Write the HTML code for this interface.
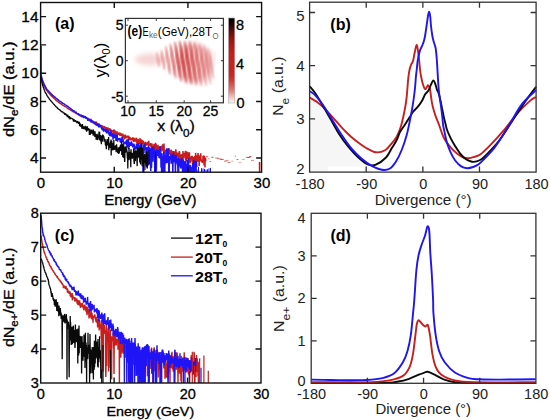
<!DOCTYPE html>
<html><head><meta charset="utf-8"><style>
html,body{margin:0;padding:0;background:#fff;}
body{width:550px;height:420px;position:relative;overflow:hidden;font-family:"Liberation Sans", sans-serif;}
</style></head><body>
<svg width="550" height="420" viewBox="0 0 550 420" style="position:absolute;left:0;top:0">
<g font-family='"Liberation Sans", sans-serif'>
<clipPath id="cpA"><rect x="40.6" y="2.5" width="221.00000000000003" height="169.7"/></clipPath>
<g clip-path="url(#cpA)">
<path d="M41.0,75.4 41.2,76.5 41.4,77.5 41.6,78.6 41.8,79.6 42.0,80.4 42.2,81.3 42.4,82.1 42.6,82.4 42.8,82.8 43.0,83.4 43.2,83.9 43.4,84.3 43.6,84.6 43.8,85.2 44.0,85.7 44.2,85.8 44.4,86.3 44.6,86.5 44.8,87.1 45.0,87.3 45.2,87.9 45.4,88.1 45.6,88.6 45.8,89.0 46.0,89.2 46.2,89.2 46.4,89.8 46.6,90.2 46.8,90.5 47.0,90.5 47.2,91.0 47.4,91.1 47.6,91.4 47.8,91.9 48.0,91.9 48.2,92.4 48.4,92.6 48.6,92.6 48.8,92.9 49.0,93.2 49.2,93.5 49.4,93.4 49.6,93.9 49.8,94.3 50.0,94.0 50.2,94.6 50.4,94.8 50.6,94.8 50.8,95.4 51.0,95.5 51.2,95.4 51.4,95.9 51.6,96.1 51.8,96.1 52.0,96.4 52.2,96.6 52.4,96.9 52.6,97.1 52.8,97.0 53.0,97.4 53.2,97.5 53.4,97.7 53.6,97.7 53.8,98.0 54.0,98.2 54.2,98.7 54.4,98.8 54.6,98.7 54.8,98.9 55.0,99.3 55.2,99.1 55.4,99.5 55.6,99.7 55.8,100.2 56.0,100.3 56.2,100.4 56.4,100.5 56.6,100.6 56.8,101.1 57.0,100.9 57.2,101.1 57.4,101.4 57.6,101.5 57.8,101.6 58.0,101.6 58.2,102.0 58.4,102.0 58.6,102.5 58.8,102.5 59.0,102.6 59.2,102.8 59.4,102.8 59.6,103.2 59.8,103.3 60.0,103.4 60.2,103.3 60.4,103.6 60.6,103.4 60.8,103.6 61.0,103.9 61.2,104.0 61.4,104.3 61.6,104.8 61.8,104.5 62.0,104.6 62.2,104.8 62.4,105.0 62.6,105.1 62.8,105.1 63.0,105.5 63.2,105.5 63.4,105.4 63.6,105.7 63.8,105.8 64.0,105.8 64.2,106.1 64.4,106.1 64.6,106.4 64.8,106.4 65.0,106.6 65.2,106.6 65.4,106.8 65.6,106.6 65.8,106.9 66.0,107.2 66.2,107.0 66.4,107.6 66.6,107.3 66.8,107.9 67.0,107.7 67.2,108.2 67.4,108.1 67.6,108.0 67.8,108.5 68.0,108.8 68.2,108.7 68.4,108.8 68.6,108.9 68.8,108.9 69.0,109.3 69.2,109.2 69.4,109.3 69.6,109.4 69.8,109.5 70.0,109.5 70.2,110.1 70.4,110.1 70.6,110.3 70.8,110.3 71.0,110.3 71.2,110.4 71.4,110.5 71.6,110.7 71.8,110.8 72.0,111.0 72.2,110.9 72.4,111.0 72.6,111.7 72.8,111.4 73.0,111.3 73.2,111.8 73.4,112.1 73.6,111.6 73.8,112.0 74.0,112.1 74.2,111.8 74.4,112.5 74.6,112.5 74.8,112.6 75.0,112.6 75.2,113.0 75.4,112.8 75.6,113.0 75.8,112.9 76.0,112.9 76.2,113.7 76.4,113.3 76.6,113.9 76.8,113.7 77.0,113.8 77.2,113.8 77.4,114.2 77.6,114.0 77.8,114.2 78.0,114.3 78.2,114.7 78.4,114.7 78.6,114.9 78.8,114.5 79.0,114.6 79.2,115.2 79.4,115.4 79.6,115.1 79.8,115.4 80.0,115.6 80.2,115.9 80.4,116.0 80.6,115.5 80.8,116.5 81.0,115.4 81.2,116.4 81.4,116.3 81.6,116.5 81.8,117.1 82.0,116.9 82.2,115.9 82.4,115.7 82.6,116.9 82.8,116.5 83.0,116.7 83.2,117.2 83.4,116.3 83.6,116.1 83.8,117.2 84.0,117.3 84.2,117.1 84.4,117.7 84.6,117.4 84.8,116.9 85.0,117.7 85.2,117.3 85.4,117.2 85.6,118.2 85.8,118.3 86.0,118.3 86.2,118.2 86.4,118.2 86.6,118.1 86.8,118.2 87.0,118.8 87.2,118.5 87.4,119.1 87.6,119.2 87.8,120.2 88.0,118.5 88.2,119.7 88.4,119.5 88.6,119.7 88.8,118.8 89.0,119.8 89.2,120.3 89.4,119.9 89.6,120.0 89.8,120.2 90.0,121.0 90.2,120.4 90.4,119.2 90.6,120.2 90.8,119.5 91.0,118.8 91.2,120.4 91.4,122.0 91.6,121.2 91.8,120.8 92.0,120.7 92.2,121.9 92.4,121.4 92.6,121.4 92.8,121.5 93.0,121.6 93.2,122.5 93.4,122.7 93.6,122.0 93.8,121.4 94.0,122.4 94.2,121.7 94.4,123.2 94.6,121.6 94.8,122.6 95.0,122.6 95.2,121.9 95.4,124.5 95.6,124.5 95.8,123.0 96.0,123.7 96.2,124.1 96.4,121.6 96.6,123.6 96.8,123.4 97.0,123.7 97.2,122.9 97.4,123.7 97.6,123.9 97.8,124.9 98.0,124.4 98.2,124.5 98.4,125.4 98.6,124.2 98.8,124.2 99.0,123.4 99.2,125.9 99.4,125.6 99.6,125.6 99.8,125.4 100.0,125.1 100.2,125.4 100.4,125.2 100.6,125.5 100.8,125.9 101.0,126.7 101.2,126.3 101.4,125.8 101.6,125.5 101.8,125.4 102.0,127.5 102.2,126.9 102.4,126.5 102.6,126.7 102.8,125.6 103.0,127.1 103.2,127.3 103.4,126.7 103.6,126.7 103.8,127.1 104.0,127.3 104.2,126.2 104.4,127.0 104.6,126.4 104.8,128.5 105.0,127.6 105.2,128.5 105.4,129.0 105.6,127.5 105.8,127.4 106.0,128.2 106.2,128.3 106.4,127.1 106.6,128.9 106.8,130.1 107.0,128.1 107.2,129.1 107.4,127.8 107.6,128.9 107.8,127.5 108.0,127.9 108.2,130.5 108.4,128.3 108.6,130.4 108.8,131.3 109.0,129.8 109.2,130.1 109.4,131.4 109.6,129.7 109.8,129.1 110.0,128.3 110.2,130.0 110.4,131.6 110.6,131.0 110.8,129.8 111.0,129.7 111.2,130.4 111.4,131.5 111.6,130.3 111.8,130.8 112.0,131.1 112.2,130.7 112.4,130.7 112.6,131.1 112.8,130.9 113.0,132.4 113.2,133.2 113.4,132.2 113.6,131.6 113.8,129.6 114.0,132.2 114.2,129.8 114.4,130.3 114.6,133.1 114.8,133.1 115.0,132.3 115.2,130.7 115.4,131.7 115.6,131.5 115.8,133.4 116.0,135.6 116.2,132.8 116.4,131.9 116.6,131.4 116.8,133.4 117.0,133.0 117.2,131.5 117.4,133.5 117.6,132.2 117.8,134.5 118.0,134.6 118.2,135.0 118.4,133.0 118.6,134.2 118.8,133.7 119.0,134.0 119.2,133.3 119.4,133.0 119.6,132.6 119.8,135.7 120.0,134.4 120.2,135.1 120.4,135.6 120.6,132.9 120.8,133.8 121.0,135.4 121.2,135.3 121.4,134.5 121.6,136.2 121.8,135.2 122.0,133.7 122.2,134.4 122.4,136.7 122.6,136.4 122.8,133.5 123.0,137.4 123.2,137.0 123.4,137.3 123.6,135.2 123.8,135.5 124.0,134.7 124.2,139.4 124.4,136.2 124.6,138.9 124.8,135.6 125.0,136.5 125.2,134.5 125.4,136.4 125.6,137.9 125.8,136.1 126.0,138.4 126.2,137.3 126.4,135.8 126.6,136.2 126.8,136.9 127.0,137.1 127.2,136.9 127.4,137.1 127.6,137.0 127.8,136.5 128.0,135.7 128.2,137.6 128.4,139.1 128.6,135.8 128.8,137.9 129.0,137.3 129.2,136.5 129.4,139.5 129.6,137.6 129.8,140.4 130.0,137.0 130.2,140.4 130.4,138.3 130.6,138.0 130.8,139.3 131.0,138.3 131.2,139.8 131.4,139.1 131.6,137.8 131.8,138.8 132.0,139.2 132.2,140.6 132.4,137.9 132.6,139.3 132.8,137.4 133.0,140.4 133.2,138.3 133.4,137.5 133.6,139.4 133.8,142.0 134.0,137.9 134.2,138.8 134.4,139.5 134.6,138.5 134.8,141.2 135.0,139.0 135.2,139.9 135.4,141.6 135.6,139.0 135.8,141.0 136.0,138.8 136.2,138.5 136.4,137.8 136.6,143.4 136.8,141.0 137.0,142.0 137.2,140.8 137.4,141.5 137.6,141.0 137.8,144.5 138.0,139.3 138.2,139.0 138.4,140.4 138.6,139.7 138.8,142.8 139.0,143.0 139.2,139.9 139.4,140.8 139.6,141.4 139.8,144.0 140.0,138.0 140.2,142.7 140.4,140.1 140.6,144.5 140.8,141.0 141.0,142.7 141.2,139.5 141.4,140.6 141.6,145.6 141.8,144.2 142.0,143.4 142.2,141.3 142.4,140.0 142.6,142.2 142.8,143.2 143.0,143.4 143.2,143.4 143.4,140.9 143.6,142.9 143.8,143.4 144.0,145.5 144.2,146.5 144.4,143.3 144.6,142.7 144.8,143.1 145.0,142.7 145.2,142.9 145.4,144.2 145.6,141.9 145.8,145.9 146.0,144.3 146.2,145.3 146.4,143.5 146.6,142.8 146.8,143.6 147.0,144.5 147.2,143.5 147.4,145.1 147.6,144.2 147.8,141.9 148.0,145.6 148.2,142.1 148.4,144.1 148.6,144.8 148.8,140.9 149.0,144.9 149.2,145.9 149.4,145.1 149.6,144.3 149.8,144.5 150.0,143.5 150.2,144.9 150.4,144.4 150.6,146.6 150.8,143.1 151.0,145.9 151.2,146.0 151.4,146.7 151.6,144.8 151.8,147.1 152.0,143.5 152.2,148.1 152.4,148.1 152.6,147.1 152.8,147.2 153.0,145.5 153.2,146.1 153.4,147.3 153.6,147.8 153.8,147.0 154.0,143.7 154.2,149.2 154.4,150.8 154.6,148.9 154.8,148.3 155.0,144.1 155.2,149.6 155.4,147.6 155.6,142.9 155.8,147.5 156.0,144.8 156.2,144.4 156.4,147.4 156.6,150.9 156.8,146.4 157.0,148.5 157.2,150.9 157.4,150.6 157.6,148.7 157.8,147.9 158.0,144.9 158.2,147.1 158.4,149.1 158.6,148.7 158.8,148.7 159.0,150.9 159.2,146.5 159.4,148.9 159.6,149.6 159.8,150.6 160.0,151.0 160.2,149.2 160.4,148.3 160.6,150.0 160.8,147.3 161.0,146.2 161.2,151.7 161.4,148.9 161.6,149.9 161.8,145.7 162.0,148.3 162.2,148.2 162.4,147.3 162.6,144.4 162.8,148.8 163.0,151.5 163.2,150.3 163.4,149.4 163.6,149.6 163.8,152.2 164.0,143.6 164.2,150.1 164.4,150.8 164.6,151.5 164.8,154.7 165.0,153.0 165.2,151.3 165.4,151.2 165.6,153.2 165.8,149.6 166.0,150.3 166.2,153.5 166.4,155.9 166.6,151.3 166.8,150.8 167.0,153.4 167.2,155.9 167.4,151.9 167.6,154.9 167.8,148.7 168.0,150.5 168.2,150.5 168.4,154.0 168.6,153.9 168.8,148.0 169.0,149.2 169.2,153.0 169.4,149.8 169.6,149.9 169.8,154.4 170.0,152.8 170.2,154.4 170.4,151.6 170.6,155.2 170.8,152.0 171.0,154.8 171.2,149.7 171.4,150.8 171.6,152.7 171.8,150.8 172.0,154.1 172.2,153.4 172.4,157.2 172.6,153.0 172.8,152.3 173.0,154.8 173.2,151.0 173.4,152.4 173.6,158.0 173.8,158.8 174.0,157.5 174.2,153.1 174.4,154.1 174.6,157.4 174.8,153.6 175.0,151.0 175.2,153.7 175.4,154.9 175.6,154.4 175.8,149.4 176.0,151.0 176.2,156.6 176.4,152.0 176.6,154.9 176.8,154.8 177.0,156.6 177.2,153.1 177.4,155.6 177.6,154.2 177.8,154.1 178.0,152.5 178.2,158.4 178.4,154.3 178.6,153.0 178.8,154.5 179.0,158.1 179.2,156.4 179.4,151.1 179.6,152.4 179.8,154.0 180.0,160.9 180.2,157.0 180.4,154.7 180.6,157.9 180.8,161.9 181.0,155.3 181.2,154.6 181.4,158.3 181.6,156.2 181.8,157.2 182.0,154.1 182.2,161.7 182.4,160.2 182.6,159.6 182.8,165.7 183.0,151.0 183.2,157.3 183.4,154.9 183.6,157.9 183.8,158.4 184.0,154.7 184.2,152.7 184.4,156.7 184.6,154.1 184.8,154.9 185.0,154.6 185.2,156.5 185.4,150.7 185.6,160.0 185.8,157.9 186.0,159.6 186.2,161.4 186.4,158.9 186.6,151.3 186.8,154.9 187.0,153.4 187.2,156.6 187.4,157.7 187.6,152.1 187.8,158.9 188.0,152.5 188.2,159.0 188.4,156.6 188.6,156.7 188.8,156.5 189.0,156.6 189.2,156.1 189.4,152.2 189.6,156.8 189.8,162.0 190.0,163.0 190.2,162.7 190.4,158.9 190.6,156.5 190.8,161.6 191.0,157.8 191.2,157.7 191.4,156.6 191.6,158.3 191.8,156.1 192.0,159.0 192.2,155.9 192.4,157.3 192.6,164.4 192.8,157.8 193.0,158.3 193.2,159.9 193.4,159.7 193.6,157.0 193.8,158.0 194.0,160.8 194.2,159.5 194.4,158.7 194.6,163.3 194.8,156.1 195.0,158.4 195.2,158.9 195.4,162.5 195.6,152.9 195.8,156.8 196.0,158.6 196.2,160.6 196.4,160.1 196.6,162.5 196.8,155.2 197.0,161.3 197.2,159.0 197.4,156.8 197.6,161.6 197.8,156.7 198.0,153.1 198.2,158.8 198.4,154.7 198.6,157.1 198.8,160.0 199.0,160.9 199.2,166.1 199.4,159.2 199.6,155.5 199.8,157.9 200.0,157.2 200.2,156.3 200.4,160.6 200.6,158.1 200.8,153.2 201.0,161.5 201.2,159.6 201.4,160.3 201.6,161.4 201.8,161.4 202.0,160.0 202.2,162.9 202.4,161.5 202.6,160.7 202.8,161.5 203.0,155.8 203.2,159.0 203.4,159.8 203.6,160.5 203.8,155.4 204.0,165.5 204.2,160.7 204.4,156.3 204.6,156.8 204.8,159.0 205.0,167.6 205.2,157.9 205.4,159.9 205.6,158.3 205.8,161.4" fill="none" stroke="#c81e1e" stroke-width="1.5" stroke-linejoin="bevel"/>
<path d="M41.0,74.9 41.2,75.9 41.4,76.2 41.6,77.2 41.8,77.9 42.0,78.7 42.2,79.5 42.4,79.9 42.6,80.4 42.8,81.1 43.0,81.5 43.2,81.9 43.4,82.2 43.6,82.7 43.8,83.3 44.0,83.7 44.2,84.1 44.4,84.8 44.6,85.1 44.8,85.5 45.0,86.0 45.2,86.3 45.4,86.5 45.6,87.1 45.8,87.4 46.0,87.8 46.2,88.0 46.4,88.4 46.6,88.9 46.8,89.2 47.0,89.2 47.2,89.8 47.4,89.8 47.6,90.2 47.8,90.2 48.0,90.3 48.2,91.0 48.4,91.0 48.6,91.0 48.8,91.5 49.0,91.4 49.2,92.2 49.4,92.1 49.6,92.1 49.8,92.6 50.0,92.6 50.2,93.2 50.4,93.0 50.6,93.0 50.8,93.4 51.0,93.7 51.2,93.7 51.4,93.7 51.6,94.4 51.8,94.6 52.0,94.3 52.2,95.0 52.4,95.1 52.6,95.5 52.8,95.5 53.0,95.5 53.2,95.8 53.4,96.0 53.6,96.0 53.8,96.5 54.0,96.4 54.2,96.4 54.4,97.0 54.6,96.9 54.8,97.0 55.0,97.3 55.2,97.4 55.4,97.6 55.6,97.7 55.8,97.8 56.0,98.1 56.2,98.4 56.4,98.4 56.6,98.8 56.8,98.9 57.0,98.8 57.2,99.1 57.4,99.1 57.6,99.6 57.8,99.7 58.0,99.7 58.2,99.7 58.4,100.0 58.6,100.2 58.8,100.5 59.0,100.6 59.2,100.5 59.4,101.0 59.6,101.1 59.8,101.0 60.0,101.4 60.2,101.5 60.4,101.6 60.6,101.6 60.8,101.6 61.0,101.9 61.2,102.0 61.4,102.4 61.6,102.7 61.8,102.5 62.0,102.8 62.2,102.8 62.4,103.0 62.6,103.1 62.8,103.1 63.0,103.8 63.2,103.5 63.4,103.3 63.6,103.9 63.8,103.7 64.0,103.9 64.2,103.6 64.4,104.3 64.6,104.4 64.8,104.6 65.0,104.8 65.2,104.9 65.4,104.8 65.6,105.2 65.8,105.0 66.0,105.2 66.2,105.5 66.4,105.5 66.6,105.5 66.8,106.0 67.0,106.1 67.2,106.0 67.4,106.3 67.6,106.3 67.8,106.4 68.0,106.5 68.2,107.0 68.4,106.7 68.6,107.1 68.8,107.4 69.0,107.6 69.2,107.4 69.4,107.7 69.6,107.9 69.8,108.2 70.0,108.0 70.2,108.2 70.4,108.7 70.6,108.8 70.8,108.8 71.0,108.8 71.2,109.1 71.4,109.3 71.6,109.8 71.8,109.3 72.0,109.9 72.2,109.9 72.4,110.0 72.6,110.3 72.8,110.5 73.0,110.5 73.2,110.8 73.4,110.3 73.6,110.8 73.8,111.4 74.0,111.2 74.2,111.6 74.4,111.0 74.6,111.2 74.8,111.7 75.0,111.8 75.2,112.5 75.4,112.2 75.6,112.2 75.8,112.5 76.0,112.1 76.2,112.1 76.4,113.6 76.6,113.2 76.8,113.3 77.0,113.3 77.2,113.7 77.4,113.3 77.6,114.2 77.8,113.6 78.0,113.0 78.2,114.3 78.4,114.6 78.6,114.1 78.8,114.1 79.0,114.5 79.2,114.1 79.4,115.3 79.6,114.9 79.8,115.1 80.0,114.7 80.2,115.8 80.4,115.4 80.6,115.1 80.8,114.7 81.0,115.2 81.2,116.2 81.4,115.1 81.6,115.7 81.8,116.3 82.0,116.7 82.2,116.2 82.4,115.5 82.6,116.1 82.8,115.8 83.0,115.5 83.2,116.4 83.4,116.0 83.6,116.9 83.8,118.2 84.0,117.1 84.2,117.1 84.4,116.5 84.6,116.5 84.8,116.3 85.0,117.2 85.2,116.6 85.4,116.8 85.6,117.4 85.8,117.0 86.0,117.2 86.2,117.0 86.4,118.9 86.6,118.5 86.8,118.6 87.0,118.9 87.2,118.4 87.4,119.0 87.6,117.5 87.8,120.8 88.0,120.4 88.2,118.8 88.4,118.5 88.6,119.7 88.8,118.5 89.0,119.3 89.2,120.2 89.4,119.8 89.6,119.5 89.8,120.9 90.0,119.4 90.2,121.4 90.4,120.3 90.6,120.7 90.8,121.0 91.0,119.8 91.2,122.6 91.4,120.5 91.6,122.8 91.8,120.4 92.0,121.8 92.2,120.7 92.4,120.5 92.6,122.3 92.8,122.2 93.0,120.8 93.2,123.1 93.4,122.0 93.6,123.4 93.8,122.8 94.0,123.2 94.2,122.5 94.4,124.1 94.6,123.6 94.8,124.1 95.0,122.4 95.2,122.1 95.4,122.6 95.6,124.2 95.8,124.0 96.0,123.3 96.2,124.5 96.4,125.6 96.6,125.2 96.8,123.7 97.0,126.0 97.2,125.0 97.4,125.6 97.6,124.2 97.8,123.7 98.0,124.7 98.2,125.0 98.4,126.0 98.6,126.6 98.8,127.3 99.0,126.7 99.2,127.3 99.4,125.8 99.6,124.4 99.8,126.2 100.0,126.1 100.2,126.7 100.4,126.4 100.6,125.5 100.8,126.4 101.0,127.0 101.2,127.8 101.4,126.7 101.6,128.8 101.8,129.1 102.0,126.8 102.2,127.9 102.4,130.1 102.6,127.6 102.8,130.0 103.0,130.4 103.2,130.1 103.4,127.7 103.6,131.8 103.8,129.5 104.0,128.8 104.2,129.7 104.4,131.0 104.6,129.6 104.8,130.3 105.0,131.2 105.2,130.2 105.4,128.7 105.6,131.1 105.8,132.2 106.0,132.0 106.2,130.3 106.4,132.0 106.6,131.8 106.8,133.4 107.0,129.2 107.2,131.3 107.4,130.8 107.6,129.8 107.8,130.8 108.0,133.3 108.2,131.1 108.4,131.5 108.6,133.1 108.8,134.1 109.0,134.3 109.2,133.2 109.4,132.4 109.6,136.1 109.8,132.0 110.0,132.8 110.2,133.8 110.4,136.2 110.6,131.6 110.8,130.3 111.0,131.4 111.2,132.4 111.4,136.7 111.6,134.5 111.8,134.1 112.0,133.4 112.2,134.6 112.4,133.2 112.6,135.0 112.8,133.6 113.0,139.7 113.2,136.3 113.4,133.9 113.6,133.7 113.8,136.0 114.0,133.4 114.2,135.0 114.4,134.3 114.6,138.3 114.8,135.0 115.0,134.7 115.2,135.1 115.4,134.9 115.6,136.9 115.8,136.9 116.0,140.9 116.2,135.8 116.4,140.0 116.6,137.5 116.8,137.7 117.0,134.6 117.2,135.2 117.4,139.2 117.6,141.7 117.8,138.7 118.0,140.0 118.2,138.5 118.4,138.4 118.6,138.1 118.8,139.6 119.0,138.8 119.2,138.2 119.4,139.3 119.6,140.2 119.8,139.0 120.0,137.8 120.2,142.2 120.4,139.8 120.6,139.8 120.8,142.6 121.0,142.2 121.2,140.2 121.4,140.8 121.6,138.5 121.8,142.0 122.0,137.0 122.2,142.1 122.4,136.8 122.6,141.4 122.8,140.5 123.0,139.2 123.2,140.8 123.4,142.7 123.6,142.3 123.8,144.7 124.0,143.2 124.2,143.4 124.4,142.6 124.6,142.2 124.8,142.5 125.0,141.6 125.2,143.3 125.4,143.1 125.6,143.8 125.8,142.5 126.0,142.7 126.2,140.8 126.4,145.2 126.6,139.5 126.8,142.1 127.0,147.7 127.2,139.6 127.4,141.8 127.6,143.7 127.8,140.0 128.0,147.5 128.2,138.9 128.4,145.5 128.6,149.1 128.8,144.5 129.0,142.3 129.2,147.2 129.4,142.3 129.6,145.1 129.8,141.7 130.0,144.3 130.2,145.9 130.4,143.9 130.6,144.7 130.8,144.5 131.0,142.6 131.2,145.7 131.4,145.6 131.6,141.4 131.8,144.1 132.0,143.5 132.2,143.4 132.4,144.1 132.6,143.9 132.8,147.1 133.0,144.3 133.2,147.7 133.4,145.5 133.6,147.5 133.8,143.5 134.0,144.7 134.2,144.8 134.4,146.6 134.6,147.6 134.8,150.2 135.0,148.3 135.2,146.2 135.4,146.7 135.6,147.8 135.8,148.5 136.0,148.4 136.2,147.2 136.4,144.9 136.6,143.7 136.8,148.0 137.0,147.5 137.2,146.4 137.4,149.6 137.6,145.4 137.8,147.2 138.0,146.4 138.2,143.1 138.4,148.9 138.6,145.8 138.8,145.3 139.0,146.2 139.2,148.8 139.4,145.9 139.6,146.8 139.8,146.4 140.0,146.5 140.2,143.7 140.4,148.8 140.6,148.1 140.8,147.7 141.0,152.7 141.2,147.6 141.4,149.0 141.6,151.0 141.8,149.0 142.0,150.2 142.2,151.0 142.4,147.5 142.6,152.4 142.8,149.1 143.0,174.8 143.2,160.5 143.4,146.4 143.6,145.2 143.8,153.3 144.0,152.8 144.2,144.5 144.4,149.9 144.6,147.2 144.8,143.7 145.0,144.9 145.2,147.1 145.4,150.3 145.6,149.2 145.8,149.4 146.0,149.3 146.2,150.4 146.4,167.2 146.6,149.5 146.8,147.0 147.0,148.6 147.2,147.6 147.4,149.0 147.6,150.2 147.8,155.0 148.0,152.5 148.2,165.4 148.4,146.1 148.6,146.4 148.8,149.9 149.0,150.7 149.2,164.0 149.4,147.4 149.6,152.2 149.8,148.2 150.0,147.7 150.2,148.7 150.4,149.9 150.6,167.8 150.8,171.0 151.0,150.7 151.2,152.4 151.4,168.0 151.6,164.6 151.8,148.1 152.0,146.8 152.2,152.0 152.4,148.8 152.6,152.4 152.8,150.5 153.0,161.7 153.2,149.5 153.4,157.8 153.6,146.8 153.8,152.6 154.0,156.4 154.2,150.4 154.4,151.6 154.6,153.4 154.8,175.2 155.0,149.7 155.2,151.9 155.4,175.2 155.6,155.8 155.8,153.1 156.0,175.2 156.2,153.7 156.4,170.5 156.6,150.4 156.8,149.5 157.0,153.4 157.2,152.5 157.4,150.8 157.6,156.0 157.8,152.8 158.0,149.9 158.2,156.0 158.4,150.1 158.6,154.2 158.8,152.7 159.0,157.9 159.2,156.9 159.4,150.8 159.6,154.0 159.8,158.5 160.0,146.0 160.2,156.1 160.4,153.4 160.6,152.0 160.8,153.2 161.0,167.6 161.2,167.2 161.4,158.4 161.6,174.9 161.8,153.2 162.0,175.2 162.2,164.7 162.4,158.2 162.6,156.3 162.8,175.2 163.0,175.2 163.2,160.7 163.4,158.6 163.6,152.9 163.8,151.9 164.0,154.8 164.2,154.2 164.4,175.2 164.6,165.5 164.8,175.2 165.0,155.7 165.2,156.6 165.4,154.8 165.6,163.1 165.8,156.6 166.0,163.5 166.2,158.4 166.4,156.4 166.6,153.0 166.8,148.2 167.0,157.1 167.2,156.7 167.4,163.1 167.6,151.3 167.8,160.9 168.0,154.6 168.2,157.5 168.4,148.4 168.6,159.2 168.8,175.2 169.0,159.3 169.2,175.2 169.4,156.0 169.6,158.2 169.8,160.3 170.0,158.1 170.2,159.6 170.4,160.4 170.6,155.7 170.8,155.9 171.0,154.2 171.2,163.8 171.4,160.4 171.6,156.7 171.8,156.6 172.0,157.6 172.2,156.8 172.4,159.1 172.6,154.9 172.8,175.2 173.0,163.4 173.2,155.0 173.4,152.8 173.6,157.1 173.8,160.0 174.0,162.2 174.2,158.5 174.4,157.6 174.6,157.3 174.8,155.1 175.0,162.4 175.2,161.5 175.4,175.2 175.6,159.4 175.8,157.9 176.0,163.1 176.2,157.8 176.4,155.4 176.6,156.6 176.8,160.2 177.0,160.6 177.2,161.3 177.4,164.6 177.6,162.4 177.8,165.4 178.0,175.2 178.2,157.9 178.4,163.1 178.6,174.9 178.8,161.0 179.0,163.5 179.2,159.8 179.4,158.7 179.6,161.0 179.8,161.5 180.0,161.0 180.2,166.1 180.4,162.1 180.6,167.6 180.8,163.7 181.0,168.6 181.2,158.4 181.4,158.9 181.6,161.8 181.8,158.5 182.0,161.4 182.2,165.9 182.4,158.8 182.6,175.2 182.8,160.1 183.0,160.4 183.2,159.6 183.4,161.9 183.6,163.8 183.8,161.3 184.0,175.2 184.2,164.8 184.4,175.2 184.6,162.6 184.8,175.2 185.0,163.9 185.2,160.8 185.4,167.5 185.6,175.2 185.8,167.8 186.0,167.5 186.2,164.5 186.4,173.7 186.6,164.0 186.8,168.7 187.0,168.1 187.2,159.7 187.4,167.7 187.6,173.6 187.8,175.1 188.0,163.5 188.2,162.5 188.4,158.4 188.6,167.6 188.8,164.7 189.0,165.2 189.2,171.8 189.4,172.8 189.6,166.5 189.8,170.3 190.0,175.2 190.2,167.7 190.4,165.4 190.6,165.6 190.8,173.0 191.0,167.3 191.2,167.8 191.4,172.2 191.6,175.2 191.8,168.5 192.0,168.1 192.2,175.2 192.4,175.2 192.6,169.9 192.8,163.2 193.0,166.1 193.2,163.3 193.4,175.2 193.6,166.8 193.8,159.9 194.0,165.1 194.2,175.2 194.4,165.3 194.6,162.1 194.8,170.2 195.0,163.9 195.2,161.3 195.4,161.0 195.6,169.4 195.8,169.0 196.0,175.2 196.2,167.5 196.4,161.1 196.6,163.5 196.8,167.1" fill="none" stroke="#1e14f5" stroke-width="1.5" stroke-linejoin="bevel"/>
<path d="M41.0,75.8 41.2,77.2 41.4,78.6 41.6,80.3 41.8,81.7 42.0,82.6 42.2,83.4 42.4,84.4 42.6,84.8 42.8,85.8 43.0,86.2 43.2,86.7 43.4,87.6 43.6,87.8 43.8,88.4 44.0,89.3 44.2,89.8 44.4,90.2 44.6,90.7 44.8,91.2 45.0,91.7 45.2,92.1 45.4,92.8 45.6,92.9 45.8,93.2 46.0,93.6 46.2,93.6 46.4,94.1 46.6,94.6 46.8,95.2 47.0,95.3 47.2,95.8 47.4,96.2 47.6,96.3 47.8,96.8 48.0,97.3 48.2,97.3 48.4,97.3 48.6,98.0 48.8,98.0 49.0,98.4 49.2,98.7 49.4,98.9 49.6,99.4 49.8,99.5 50.0,99.9 50.2,100.1 50.4,100.1 50.6,100.5 50.8,100.9 51.0,100.9 51.2,101.6 51.4,101.3 51.6,101.5 51.8,102.0 52.0,102.2 52.2,102.4 52.4,102.6 52.6,102.9 52.8,103.2 53.0,103.5 53.2,103.4 53.4,103.8 53.6,104.1 53.8,104.5 54.0,103.9 54.2,104.6 54.4,104.8 54.6,105.2 54.8,105.5 55.0,105.6 55.2,105.8 55.4,105.9 55.6,106.2 55.8,106.7 56.0,106.6 56.2,106.8 56.4,107.3 56.6,107.2 56.8,107.0 57.0,107.6 57.2,107.7 57.4,108.0 57.6,108.5 57.8,108.5 58.0,108.4 58.2,108.9 58.4,108.9 58.6,109.3 58.8,109.3 59.0,109.5 59.2,109.4 59.4,109.8 59.6,109.8 59.8,109.8 60.0,109.9 60.2,110.6 60.4,110.5 60.6,110.7 60.8,111.0 61.0,111.4 61.2,111.3 61.4,111.3 61.6,111.5 61.8,112.0 62.0,111.7 62.2,112.1 62.4,111.5 62.6,111.8 62.8,112.6 63.0,112.3 63.2,112.4 63.4,113.4 63.6,112.4 63.8,113.2 64.0,112.5 64.2,113.3 64.4,113.5 64.6,114.3 64.8,114.3 65.0,113.7 65.2,115.0 65.4,113.8 65.6,113.3 65.8,114.3 66.0,115.4 66.2,115.2 66.4,115.1 66.6,114.7 66.8,114.6 67.0,116.1 67.2,116.0 67.4,117.1 67.6,115.5 67.8,114.9 68.0,116.9 68.2,115.8 68.4,116.8 68.6,117.7 68.8,116.4 69.0,118.4 69.2,116.6 69.4,116.5 69.6,117.3 69.8,116.6 70.0,119.4 70.2,117.9 70.4,117.9 70.6,118.0 70.8,118.2 71.0,117.7 71.2,118.5 71.4,118.3 71.6,118.7 71.8,118.3 72.0,118.5 72.2,119.1 72.4,118.3 72.6,119.1 72.8,119.0 73.0,120.2 73.2,118.8 73.4,120.8 73.6,121.6 73.8,119.9 74.0,119.0 74.2,120.3 74.4,121.7 74.6,120.2 74.8,121.3 75.0,121.2 75.2,120.8 75.4,120.6 75.6,120.6 75.8,120.9 76.0,121.6 76.2,121.6 76.4,122.2 76.6,122.4 76.8,122.1 77.0,123.0 77.2,121.5 77.4,121.3 77.6,121.3 77.8,122.9 78.0,122.3 78.2,122.7 78.4,122.8 78.6,123.8 78.8,123.4 79.0,121.6 79.2,124.0 79.4,122.4 79.6,126.3 79.8,124.2 80.0,123.2 80.2,124.8 80.4,124.7 80.6,124.9 80.8,126.3 81.0,126.4 81.2,126.1 81.4,126.0 81.6,124.5 81.8,128.7 82.0,126.5 82.2,126.1 82.4,124.1 82.6,127.2 82.8,126.1 83.0,125.9 83.2,129.3 83.4,126.9 83.6,126.8 83.8,127.8 84.0,128.6 84.2,128.4 84.4,127.4 84.6,128.1 84.8,129.3 85.0,126.0 85.2,126.5 85.4,126.2 85.6,127.3 85.8,130.1 86.0,129.0 86.2,126.6 86.4,129.5 86.6,131.6 86.8,128.2 87.0,128.2 87.2,129.0 87.4,126.3 87.6,130.7 87.8,129.4 88.0,129.8 88.2,128.1 88.4,129.5 88.6,128.5 88.8,130.2 89.0,130.0 89.2,129.7 89.4,134.9 89.6,132.0 89.8,128.9 90.0,130.5 90.2,135.0 90.4,130.2 90.6,133.6 90.8,133.7 91.0,130.3 91.2,131.1 91.4,131.5 91.6,131.6 91.8,129.6 92.0,131.0 92.2,133.7 92.4,131.4 92.6,131.9 92.8,132.2 93.0,131.2 93.2,135.7 93.4,129.6 93.6,131.8 93.8,134.6 94.0,131.4 94.2,134.4 94.4,135.2 94.6,131.6 94.8,137.0 95.0,131.2 95.2,134.7 95.4,134.2 95.6,134.1 95.8,136.7 96.0,136.5 96.2,139.6 96.4,135.9 96.6,134.5 96.8,135.4 97.0,135.8 97.2,133.7 97.4,140.1 97.6,135.7 97.8,136.7 98.0,135.3 98.2,136.8 98.4,136.2 98.6,138.3 98.8,136.0 99.0,131.5 99.2,139.9 99.4,134.4 99.6,131.9 99.8,135.6 100.0,135.5 100.2,140.8 100.4,135.0 100.6,140.2 100.8,135.2 101.0,142.6 101.2,140.2 101.4,144.2 101.6,136.6 101.8,140.6 102.0,135.8 102.2,140.9 102.4,141.4 102.6,134.6 102.8,136.0 103.0,136.5 103.2,135.1 103.4,137.6 103.6,137.4 103.8,136.2 104.0,139.3 104.2,141.7 104.4,138.9 104.6,139.3 104.8,140.4 105.0,139.0 105.2,140.3 105.4,145.0 105.6,142.2 105.8,146.0 106.0,141.7 106.2,146.2 106.4,149.2 106.6,143.2 106.8,140.6 107.0,143.8 107.2,139.0 107.4,143.6 107.6,145.5 107.8,139.6 108.0,142.4 108.2,140.7 108.4,141.3 108.6,137.1 108.8,150.2 109.0,146.1 109.2,146.5 109.4,143.3 109.6,147.0 109.8,147.7 110.0,145.4 110.2,147.1 110.4,141.7 110.6,145.9 110.8,142.0 111.0,139.6 111.2,155.4 111.4,144.5 111.6,149.5 111.8,140.8 112.0,150.4 112.2,149.6 112.4,146.1 112.6,143.1 112.8,145.3 113.0,150.3 113.2,143.5 113.4,144.8 113.6,149.2 113.8,140.0 114.0,149.1 114.2,149.9 114.4,147.5 114.6,149.7 114.8,147.0 115.0,148.0 115.2,145.7 115.4,145.8 115.6,145.8 115.8,146.7 116.0,150.3 116.2,152.2 116.4,148.6 116.6,144.3 116.8,148.6 117.0,146.7 117.2,151.1 117.4,149.6 117.6,150.7 117.8,153.2 118.0,151.7 118.2,150.2 118.4,149.7 118.6,147.8 118.8,153.9 119.0,147.0 119.2,152.6 119.4,152.2 119.6,148.5 119.8,150.7 120.0,150.0 120.2,145.9 120.4,146.5 120.6,144.6 120.8,150.1 121.0,149.6 121.2,151.2 121.4,150.9 121.6,141.6 121.8,155.1 122.0,147.2 122.2,153.0 122.4,150.2 122.6,150.0 122.8,157.3 123.0,143.7 123.2,153.8 123.4,153.6 123.6,144.7 123.8,157.9 124.0,150.8 124.2,149.2 124.4,148.0 124.6,162.0 124.8,160.3 125.0,146.4 125.2,152.8 125.4,149.7 125.6,148.2 125.8,151.3 126.0,146.2 126.2,152.5 126.4,149.2 126.6,148.4 126.8,151.2 127.0,150.8 127.2,154.3 127.4,158.4 127.6,152.3 127.8,168.4 128.0,152.8 128.2,158.6 128.4,152.2 128.6,152.5 128.8,160.2 129.0,147.9 129.2,156.8 129.4,152.7 129.6,152.8 129.8,154.5 130.0,159.5 130.2,157.2 130.4,151.7 130.6,156.0 130.8,167.3 131.0,149.3 131.2,153.5 131.4,155.6 131.6,153.3 131.8,158.4 132.0,152.9 132.2,156.2 132.4,158.6 132.6,155.0 132.8,153.1 133.0,157.6 133.2,153.6 133.4,155.5 133.6,148.3 133.8,156.9 134.0,161.5 134.2,163.2 134.4,163.9 134.6,154.5 134.8,160.1 135.0,150.6 135.2,159.9 135.4,161.1 135.6,150.3 135.8,156.8 136.0,158.5 136.2,154.3 136.4,150.5 136.6,155.9 136.8,152.3 137.0,162.2 137.2,166.1 137.4,147.6 137.6,152.6 137.8,153.1 138.0,155.3 138.2,151.4 138.4,157.1 138.6,153.6 138.8,148.1 139.0,157.5 139.2,157.9 139.4,155.2 139.6,153.3 139.8,162.6 140.0,160.5 140.2,147.1 140.4,148.5 140.6,164.4 140.8,150.7 141.0,157.9 141.2,154.7 141.4,159.7 141.6,143.3 141.8,146.5 142.0,152.2 142.2,166.3 142.4,154.6 142.6,148.0 142.8,158.4 143.0,159.3 143.2,159.6 143.4,155.7 143.6,162.1 143.8,173.5 144.0,157.7 144.2,162.5 144.4,163.3 144.6,154.0 144.8,157.9 145.0,159.6 145.2,156.6 145.4,161.7 145.6,163.0 145.8,162.9 146.0,165.5 146.2,151.2 146.4,163.2 146.6,163.7 146.8,156.8 147.0,152.2 147.2,168.5 147.4,166.4 147.6,154.8 147.8,154.5" fill="none" stroke="#0a0a0a" stroke-width="1.3" stroke-linejoin="bevel"/>
<path d="M41.1,46 L41.1,76" stroke="#1e14f5" stroke-width="1.4"/>
<path d="M206,156.75h2.13" stroke="#c81e1e" stroke-width="1" opacity="0.73"/>
<path d="M207.8,158.89h1.88" stroke="#c81e1e" stroke-width="1" opacity="0.45"/>
<path d="M209.6,161.48h1.54" stroke="#c81e1e" stroke-width="1" opacity="0.68"/>
<path d="M211.4,157.25h2.06" stroke="#c81e1e" stroke-width="1" opacity="0.82"/>
<path d="M215,158h2.94" stroke="#c81e1e" stroke-width="1" opacity="0.48"/>
<path d="M216.8,158.33h2.34" stroke="#c81e1e" stroke-width="1" opacity="0.63"/>
<path d="M218.6,159.02h2.87" stroke="#c81e1e" stroke-width="1" opacity="0.63"/>
<path d="M220.4,159.41h2.37" stroke="#c81e1e" stroke-width="1" opacity="0.81"/>
<path d="M222.2,159.36h1.71" stroke="#c81e1e" stroke-width="1" opacity="0.56"/>
<path d="M224,161.15h2.72" stroke="#c81e1e" stroke-width="1" opacity="0.65"/>
<path d="M225.8,160.43h2.76" stroke="#c81e1e" stroke-width="1" opacity="0.5"/>
<path d="M227.6,162.48h2.88" stroke="#c81e1e" stroke-width="1" opacity="0.63"/>
<path d="M231.2,161.21h2.36" stroke="#c81e1e" stroke-width="1" opacity="0.39"/>
<path d="M234.8,156.13h1.1" stroke="#c81e1e" stroke-width="1" opacity="0.73"/>
<path d="M236.6,159.6h1.74" stroke="#c81e1e" stroke-width="1" opacity="0.79"/>
<path d="M238.4,162.38h2.88" stroke="#c81e1e" stroke-width="1" opacity="0.38"/>
<path d="M242,159.48h2.71" stroke="#c81e1e" stroke-width="1" opacity="0.42"/>
<path d="M245.6,157.39h2.93" stroke="#c81e1e" stroke-width="1" opacity="0.54"/>
<path d="M247.4,157.44h2.81" stroke="#c81e1e" stroke-width="1" opacity="0.84"/>
<path d="M249.2,156.5h2.2" stroke="#c81e1e" stroke-width="1" opacity="0.77"/>
<path d="M251,160.38h2.95" stroke="#c81e1e" stroke-width="1" opacity="0.55"/>
<path d="M259.6,162 V172" stroke="#c81e1e" stroke-width="1.6"/>
<path d="M197,169.79V172" stroke="#1e14f5" stroke-width="1"/>
<path d="M198.5,166.88V172" stroke="#1e14f5" stroke-width="1"/>
<path d="M201.5,168.23V172" stroke="#1e14f5" stroke-width="1"/>
<path d="M203,168.4V172" stroke="#1e14f5" stroke-width="1"/>
<path d="M204.5,168.92V172" stroke="#1e14f5" stroke-width="1"/>
<path d="M206,169.6V172" stroke="#1e14f5" stroke-width="1"/>
<path d="M207.5,169.29V172" stroke="#1e14f5" stroke-width="1"/>
<path d="M209,168.35V172" stroke="#1e14f5" stroke-width="1"/>
<path d="M210.5,167.93V172" stroke="#1e14f5" stroke-width="1"/>
<path d="M155.5,152V172M149,150V165M145,155V170" stroke="#0a0a0a" stroke-width="1"/>
</g>
<rect x="40.6" y="2.5" width="221" height="169.7" fill="none" stroke="#111" stroke-width="1.4"/>
<path d="M114.27,172.2v-5.5M114.27,2.5v5.5M187.93,172.2v-5.5M187.93,2.5v5.5M40.6,158.06h5.5M261.6,158.06h-5.5M40.6,129.77h5.5M261.6,129.77h-5.5M40.6,101.49h5.5M261.6,101.49h-5.5M40.6,73.21h5.5M261.6,73.21h-5.5M40.6,44.92h5.5M261.6,44.92h-5.5M40.6,16.64h5.5M261.6,16.64h-5.5" stroke="#111" stroke-width="1.4" fill="none"/>
<clipPath id="cpC"><rect x="40.7" y="213.2" width="220.3" height="169.8"/></clipPath>
<g clip-path="url(#cpC)">
<path d="M41.0,258.5 41.2,259.4 41.4,259.2 41.6,260.2 41.8,260.2 42.0,260.6 42.2,262.5 42.4,262.5 42.6,262.4 42.8,263.6 43.0,264.5 43.2,264.8 43.4,266.4 43.6,267.4 43.8,266.6 44.0,268.4 44.2,269.2 44.4,269.7 44.6,270.8 44.8,270.7 45.0,271.7 45.2,272.5 45.4,272.6 45.6,272.4 45.8,273.8 46.0,274.4 46.2,274.8 46.4,274.6 46.6,276.2 46.8,276.5 47.0,276.6 47.2,277.6 47.4,277.3 47.6,278.1 47.8,279.2 48.0,279.5 48.2,279.1 48.4,281.4 48.6,281.0 48.8,284.0 49.0,284.4 49.2,285.4 49.4,285.9 49.6,285.8 49.8,286.7 50.0,288.5 50.2,288.2 50.4,287.8 50.6,289.5 50.8,290.6 51.0,293.2 51.2,291.2 51.4,294.7 51.6,296.9 51.8,293.3 52.0,294.3 52.2,293.0 52.4,296.8 52.6,295.4 52.8,296.4 53.0,298.6 53.2,299.7 53.4,298.2 53.6,301.0 53.8,299.1 54.0,299.6 54.2,301.3 54.4,305.2 54.6,304.7 54.8,299.5 55.0,304.2 55.2,306.6 55.4,302.8 55.6,300.0 55.8,305.7 56.0,304.6 56.2,299.3 56.4,304.6 56.6,306.2 56.8,310.9 57.0,307.8 57.2,309.9 57.4,307.7 57.6,302.0 57.8,307.8 58.0,309.4 58.2,311.9 58.4,308.6 58.6,307.2 58.8,316.2 59.0,305.5 59.2,307.7 59.4,309.8 59.6,310.6 59.8,313.6 60.0,308.0 60.2,315.6 60.4,308.0 60.6,313.9 60.8,312.0 61.0,315.8 61.2,318.9 61.4,313.5 61.6,315.4 61.8,319.3 62.0,315.7 62.2,359.3 62.4,315.4 62.6,319.8 62.8,318.4 63.0,321.4 63.2,315.2 63.4,319.4 63.6,318.3 63.8,318.1 64.0,322.2 64.2,317.0 64.4,320.5 64.6,313.9 64.8,317.6 65.0,323.3 65.2,323.0 65.4,319.9 65.6,316.2 65.8,321.0 66.0,319.4 66.2,314.4 66.4,314.7 66.6,323.1 66.8,318.6 67.0,379.6 67.2,319.8 67.4,329.3 67.6,321.3 67.8,324.1 68.0,324.8 68.2,323.9 68.4,321.7 68.6,324.1 68.8,325.5 69.0,365.0 69.2,377.2 69.4,330.4 69.6,329.1 69.8,328.1 70.0,340.6 70.2,316.0 70.4,324.6 70.6,321.9 70.8,333.7 71.0,332.9 71.2,345.1 71.4,329.8 71.6,335.8 71.8,338.6 72.0,326.7 72.2,331.0 72.4,344.2 72.6,338.1 72.8,331.4 73.0,331.4 73.2,326.8 73.4,325.7 73.6,334.6 73.8,342.9 74.0,330.6 74.2,332.0 74.4,342.4 74.6,330.1 74.8,343.3 75.0,347.9 75.2,341.2 75.4,324.6 75.6,338.4 75.8,338.8 76.0,330.5 76.2,341.8 76.4,337.0 76.6,329.3 76.8,342.2 77.0,333.3 77.2,329.7 77.4,333.0 77.6,338.2 77.8,363.4 78.0,328.6 78.2,337.0 78.4,349.4 78.6,355.6 78.8,341.7 79.0,325.6 79.2,353.2 79.4,338.2 79.6,339.7 79.8,335.7 80.0,337.9 80.2,336.1 80.4,348.0 80.6,345.3 80.8,336.7 81.0,347.3 81.2,338.8 81.4,341.9 81.6,373.6 81.8,350.1 82.0,336.0 82.2,342.9 82.4,347.9 82.6,345.6 82.8,342.3 83.0,360.7 83.2,345.8 83.4,353.5 83.6,342.5 83.8,355.2 84.0,334.6 84.2,356.7 84.4,339.4 84.6,338.1 84.8,345.9 85.0,367.9 85.2,344.7 85.4,332.8 85.6,353.7 85.8,353.0 86.0,342.4 86.2,361.5 86.4,345.1 86.6,385.1 86.8,347.3 87.0,355.9 87.2,349.7 87.4,348.6 87.6,359.0 87.8,358.4 88.0,332.8 88.2,352.7 88.4,353.1 88.6,346.7 88.8,346.6 89.0,347.7 89.2,354.0 89.4,344.8 89.6,384.1 89.8,353.6 90.0,334.1 90.2,349.7 90.4,373.6 90.6,351.4 90.8,350.0 91.0,350.0 91.2,353.9 91.4,363.8 91.6,363.2 91.8,362.4 92.0,373.2 92.2,347.1 92.4,350.7 92.6,351.3 92.8,360.7 93.0,365.5 93.2,353.2 93.4,379.5 93.6,347.1 93.8,354.9 94.0,361.4 94.2,369.7 94.4,340.8 94.6,367.3 94.8,349.1 95.0,346.2 95.2,363.5 95.4,352.9 95.6,334.6 95.8,345.4 96.0,358.5 96.2,350.9 96.4,355.1 96.6,341.5 96.8,344.1 97.0,357.2 97.2,343.6 97.4,346.6 97.6,364.3 97.8,366.6 98.0,338.9 98.2,367.4 98.4,353.0 98.6,347.2 98.8,362.2 99.0,352.2 99.2,352.5 99.4,354.6 99.6,336.2 99.8,352.1 100.0,358.1 100.2,350.5 100.4,359.4 100.6,352.0 100.8,378.6 101.0,350.3 101.2,361.4 101.4,359.6 101.6,363.6 101.8,386.0 102.0,335.8 102.2,369.8 102.4,345.7 102.6,351.9 102.8,350.9" fill="none" stroke="#0a0a0a" stroke-width="1.3" stroke-linejoin="bevel"/>
<path d="M41.0,235.9 41.2,236.3 41.4,237.8 41.6,239.3 41.8,240.5 42.0,242.1 42.2,242.9 42.4,243.5 42.6,244.9 42.8,246.1 43.0,247.7 43.2,246.7 43.4,248.7 43.6,249.9 43.8,250.0 44.0,252.0 44.2,252.0 44.4,253.0 44.6,252.1 44.8,254.0 45.0,253.8 45.2,254.7 45.4,255.3 45.6,255.7 45.8,256.2 46.0,257.4 46.2,257.8 46.4,257.6 46.6,257.2 46.8,259.3 47.0,259.8 47.2,259.2 47.4,259.6 47.6,260.7 47.8,261.2 48.0,262.1 48.2,261.4 48.4,261.6 48.6,262.9 48.8,262.4 49.0,263.9 49.2,264.1 49.4,263.7 49.6,265.4 49.8,265.2 50.0,265.9 50.2,266.0 50.4,266.8 50.6,266.9 50.8,266.2 51.0,267.2 51.2,267.4 51.4,269.0 51.6,268.8 51.8,268.1 52.0,269.4 52.2,269.6 52.4,269.5 52.6,270.7 52.8,270.7 53.0,270.5 53.2,270.8 53.4,271.5 53.6,271.1 53.8,272.0 54.0,272.4 54.2,272.9 54.4,272.4 54.6,273.1 54.8,273.7 55.0,274.2 55.2,273.7 55.4,275.0 55.6,274.9 55.8,275.1 56.0,275.9 56.2,275.2 56.4,276.3 56.6,276.1 56.8,275.7 57.0,277.6 57.2,277.3 57.4,276.1 57.6,277.8 57.8,277.6 58.0,278.9 58.2,278.6 58.4,278.5 58.6,279.0 58.8,279.3 59.0,280.3 59.2,279.7 59.4,279.6 59.6,280.4 59.8,279.7 60.0,280.6 60.2,281.1 60.4,281.9 60.6,282.1 60.8,281.2 61.0,282.7 61.2,281.8 61.4,282.8 61.6,282.8 61.8,283.6 62.0,283.6 62.2,282.8 62.4,284.9 62.6,283.9 62.8,284.5 63.0,285.1 63.2,285.5 63.4,287.4 63.6,287.9 63.8,285.9 64.0,285.4 64.2,286.1 64.4,286.8 64.6,287.9 64.8,287.5 65.0,286.4 65.2,288.5 65.4,288.2 65.6,288.7 65.8,288.0 66.0,285.7 66.2,287.9 66.4,289.8 66.6,289.0 66.8,288.2 67.0,290.0 67.2,288.2 67.4,292.0 67.6,292.4 67.8,289.2 68.0,292.5 68.2,291.8 68.4,292.9 68.6,291.6 68.8,290.8 69.0,293.8 69.2,291.4 69.4,293.9 69.6,292.9 69.8,291.6 70.0,291.4 70.2,295.7 70.4,295.9 70.6,292.8 70.8,297.3 71.0,295.0 71.2,295.3 71.4,295.5 71.6,296.0 71.8,297.7 72.0,295.8 72.2,293.0 72.4,300.3 72.6,298.6 72.8,295.0 73.0,296.2 73.2,296.9 73.4,297.4 73.6,297.5 73.8,297.3 74.0,297.7 74.2,297.1 74.4,299.5 74.6,298.6 74.8,301.4 75.0,297.2 75.2,299.6 75.4,298.7 75.6,298.2 75.8,301.0 76.0,301.1 76.2,298.6 76.4,300.0 76.6,301.4 76.8,298.4 77.0,302.3 77.2,303.6 77.4,300.0 77.6,304.1 77.8,304.6 78.0,302.6 78.2,302.6 78.4,305.0 78.6,304.7 78.8,300.3 79.0,303.3 79.2,302.5 79.4,303.8 79.6,300.3 79.8,305.7 80.0,302.9 80.2,303.2 80.4,308.0 80.6,303.2 80.8,304.3 81.0,305.9 81.2,303.2 81.4,304.7 81.6,305.9 81.8,305.5 82.0,307.1 82.2,304.9 82.4,305.5 82.6,302.8 82.8,305.8 83.0,305.4 83.2,308.5 83.4,307.9 83.6,308.2 83.8,310.2 84.0,309.9 84.2,308.2 84.4,305.8 84.6,304.5 84.8,307.2 85.0,307.0 85.2,308.7 85.4,309.1 85.6,305.7 85.8,311.6 86.0,306.7 86.2,307.4 86.4,310.2 86.6,306.7 86.8,313.1 87.0,315.1 87.2,309.1 87.4,309.4 87.6,310.4 87.8,307.1 88.0,313.7 88.2,311.0 88.4,310.5 88.6,309.4 88.8,312.4 89.0,318.4 89.2,309.1 89.4,310.6 89.6,312.4 89.8,314.5 90.0,312.6 90.2,317.5 90.4,312.9 90.6,312.6 90.8,313.4 91.0,315.8 91.2,310.6 91.4,319.1 91.6,317.6 91.8,313.7 92.0,312.9 92.2,317.3 92.4,319.7 92.6,315.1 92.8,318.1 93.0,322.7 93.2,315.9 93.4,318.0 93.6,316.4 93.8,317.3 94.0,316.4 94.2,316.5 94.4,315.6 94.6,316.3 94.8,314.3 95.0,316.1 95.2,319.1 95.4,317.5 95.6,317.0 95.8,319.9 96.0,322.0 96.2,316.9 96.4,320.0 96.6,322.6 96.8,321.1 97.0,319.5 97.2,320.7 97.4,322.4 97.6,327.4 97.8,318.6 98.0,326.2 98.2,325.2 98.4,318.9 98.6,327.1 98.8,324.1 99.0,323.5 99.2,330.6 99.4,320.5 99.6,320.3 99.8,322.6 100.0,325.8 100.2,327.1 100.4,324.5 100.6,328.7 100.8,327.1 101.0,328.2 101.2,338.7 101.4,329.9 101.6,319.5 101.8,369.5 102.0,324.3 102.2,326.6 102.4,330.1 102.6,323.3 102.8,323.0 103.0,371.8 103.2,360.1 103.4,320.1 103.6,333.6 103.8,328.7 104.0,327.5 104.2,329.2 104.4,325.0 104.6,329.6 104.8,331.4 105.0,334.2 105.2,330.8 105.4,331.2 105.6,369.3 105.8,377.1 106.0,368.6 106.2,329.3 106.4,324.0 106.6,330.1 106.8,365.9 107.0,338.7 107.2,332.2 107.4,335.6 107.6,341.6 107.8,340.1 108.0,338.5 108.2,327.4 108.4,332.1 108.6,371.4 108.8,327.8 109.0,337.6 109.2,343.4 109.4,339.2 109.6,335.1 109.8,335.1 110.0,334.3 110.2,367.7 110.4,329.6 110.6,350.7 110.8,341.1 111.0,337.6 111.2,343.6 111.4,336.2 111.6,379.3 111.8,337.1 112.0,337.0 112.2,340.7 112.4,340.1 112.6,337.7 112.8,339.6 113.0,335.2 113.2,332.6 113.4,341.2 113.6,348.3 113.8,341.4 114.0,374.1 114.2,342.2 114.4,339.9 114.6,336.2 114.8,332.4 115.0,341.5 115.2,344.9 115.4,345.5 115.6,332.6 115.8,336.7 116.0,343.1 116.2,345.5 116.4,342.0 116.6,342.7 116.8,342.1 117.0,339.1 117.2,340.4 117.4,340.8 117.6,341.8 117.8,341.6 118.0,349.7 118.2,344.5 118.4,339.8 118.6,349.7 118.8,341.5 119.0,346.2 119.2,347.7 119.4,383.7 119.6,336.6 119.8,348.0 120.0,347.5 120.2,348.3 120.4,334.6 120.6,341.4 120.8,357.7 121.0,343.1 121.2,353.7 121.4,343.7 121.6,350.4 121.8,349.0 122.0,340.1 122.2,341.8 122.4,342.9 122.6,350.9 122.8,352.6 123.0,346.3 123.2,353.7 123.4,342.0 123.6,334.7 123.8,347.9 124.0,349.2 124.2,345.5 124.4,348.7 124.6,357.0 124.8,356.1 125.0,346.1 125.2,345.7 125.4,346.3 125.6,357.8 125.8,353.6 126.0,350.1 126.2,355.6 126.4,353.9 126.6,344.7 126.8,354.4 127.0,352.0 127.2,353.7 127.4,354.3 127.6,350.0 127.8,349.4 128.0,351.7 128.2,354.5 128.4,351.1 128.6,382.3 128.8,348.8 129.0,367.5 129.2,350.4 129.4,351.9 129.6,353.6 129.8,348.4 130.0,348.2 130.2,363.8 130.4,355.8 130.6,380.4 130.8,351.8 131.0,361.0 131.2,357.5 131.4,347.1 131.6,385.8 131.8,357.3 132.0,358.3 132.2,359.5 132.4,353.6 132.6,345.3 132.8,358.4 133.0,359.7 133.2,365.0 133.4,354.2 133.6,354.9 133.8,351.5 134.0,364.2 134.2,357.1 134.4,351.0 134.6,363.3 134.8,354.3 135.0,358.0 135.2,353.7 135.4,356.4 135.6,362.3 135.8,355.5 136.0,347.1 136.2,357.5 136.4,353.7 136.6,358.7 136.8,355.5 137.0,346.9 137.2,355.7 137.4,361.9 137.6,349.9 137.8,361.2 138.0,354.2 138.2,357.8 138.4,346.3 138.6,363.8 138.8,358.6 139.0,386.0 139.2,353.8 139.4,357.9 139.6,357.6 139.8,359.6 140.0,359.5 140.2,353.2 140.4,361.6 140.6,357.5 140.8,356.8 141.0,386.0 141.2,358.4 141.4,361.1 141.6,355.1 141.8,365.8 142.0,356.5 142.2,347.8 142.4,358.2 142.6,379.8 142.8,354.9 143.0,350.0 143.2,354.4 143.4,351.6 143.6,363.8 143.8,357.9 144.0,354.8 144.2,354.6 144.4,355.7 144.6,350.6 144.8,354.7 145.0,360.1 145.2,351.5 145.4,362.5 145.6,349.6 145.8,353.6 146.0,363.7 146.2,349.0 146.4,365.2 146.6,344.8 146.8,366.2 147.0,348.7 147.2,357.2 147.4,376.3 147.6,346.0 147.8,348.1 148.0,361.1 148.2,355.7 148.4,352.0 148.6,355.9 148.8,349.6 149.0,359.0 149.2,365.3 149.4,353.5 149.6,360.6 149.8,361.4 150.0,369.0 150.2,359.1 150.4,359.3 150.6,352.2 150.8,352.9 151.0,357.1 151.2,354.1 151.4,349.4 151.6,347.6 151.8,355.9 152.0,357.8 152.2,362.6 152.4,358.0 152.6,355.4 152.8,359.0 153.0,386.0 153.2,360.1 153.4,357.6 153.6,365.6 153.8,355.7 154.0,358.3 154.2,347.3 154.4,358.4 154.6,358.7 154.8,371.3 155.0,359.9 155.2,360.0 155.4,365.7 155.6,369.1 155.8,350.0 156.0,369.5 156.2,386.0 156.4,362.0 156.6,355.8 156.8,356.0 157.0,360.5 157.2,349.8 157.4,359.7 157.6,360.9 157.8,353.7 158.0,361.3 158.2,377.4 158.4,362.0 158.6,360.7 158.8,369.9 159.0,352.1 159.2,356.5 159.4,357.8 159.6,359.9 159.8,361.2 160.0,361.7 160.2,360.4 160.4,364.1 160.6,370.1 160.8,355.4 161.0,357.7 161.2,355.8 161.4,359.4 161.6,358.4 161.8,352.4 162.0,361.2 162.2,362.8 162.4,355.7 162.6,356.3 162.8,355.6 163.0,357.9 163.2,361.4 163.4,359.9 163.6,357.4 163.8,368.5 164.0,362.8 164.2,359.4 164.4,363.7 164.6,361.5 164.8,357.8 165.0,378.8 165.2,374.8 165.4,370.3 165.6,369.6 165.8,359.2 166.0,362.3 166.2,371.3 166.4,363.2 166.6,377.7 166.8,366.4 167.0,364.1 167.2,373.6 167.4,366.0 167.6,365.0 167.8,356.3 168.0,378.7 168.2,366.2 168.4,361.4 168.6,372.6 168.8,358.5 169.0,358.1 169.2,353.4 169.4,366.7 169.6,359.1 169.8,363.5 170.0,386.0 170.2,355.5 170.4,357.6 170.6,360.4 170.8,360.4 171.0,367.7 171.2,367.5 171.4,361.5 171.6,352.9 171.8,363.2 172.0,351.8 172.2,362.0 172.4,369.2 172.6,364.7 172.8,359.5 173.0,356.1 173.2,371.7 173.4,359.9 173.6,358.8 173.8,371.1 174.0,368.8 174.2,366.2 174.4,360.0 174.6,356.4 174.8,385.5 175.0,376.8 175.2,365.5 175.4,361.4 175.6,366.3 175.8,352.1 176.0,363.0 176.2,362.8 176.4,367.9 176.6,369.7 176.8,356.0 177.0,358.3 177.2,352.6 177.4,366.5 177.6,356.7 177.8,364.2 178.0,382.5 178.2,359.6 178.4,370.6 178.6,359.0 178.8,364.2 179.0,360.8 179.2,362.1 179.4,373.5 179.6,372.5 179.8,358.4 180.0,360.5 180.2,366.6 180.4,360.2 180.6,366.7 180.8,372.6 181.0,381.2 181.2,356.0 181.4,369.3 181.6,386.0 181.8,358.5 182.0,363.6 182.2,371.7 182.4,362.5 182.6,367.6 182.8,357.4 183.0,358.6 183.2,363.9 183.4,365.7 183.6,367.4 183.8,371.0 184.0,369.3 184.2,352.3 184.4,358.7 184.6,359.9 184.8,357.9 185.0,369.0 185.2,367.2 185.4,369.7 185.6,361.8 185.8,372.8 186.0,360.3 186.2,362.4 186.4,368.3 186.6,365.1 186.8,372.2 187.0,364.4 187.2,368.3 187.4,359.8 187.6,364.2 187.8,367.3 188.0,358.2 188.2,368.5 188.4,374.2 188.6,369.2 188.8,360.5 189.0,375.4 189.2,361.5 189.4,369.1 189.6,385.7 189.8,371.2 190.0,371.6 190.2,370.2 190.4,372.9 190.6,366.4 190.8,364.2 191.0,370.8 191.2,355.1 191.4,370.1 191.6,371.0 191.8,364.5 192.0,363.2 192.2,358.0 192.4,366.3 192.6,369.2 192.8,375.0 193.0,371.3 193.2,362.1 193.4,374.0 193.6,366.4 193.8,374.4 194.0,351.8 194.2,374.6 194.4,352.9 194.6,371.6 194.8,386.0 195.0,370.4 195.2,369.0 195.4,365.4 195.6,363.6 195.8,367.2 196.0,377.0 196.2,362.6 196.4,366.0 196.6,354.9 196.8,372.1 197.0,360.1 197.2,358.3 197.4,365.4 197.6,365.4 197.8,367.7 198.0,376.3 198.2,369.9 198.4,382.8 198.6,374.7 198.8,361.7 199.0,384.6 199.2,380.6 199.4,386.0 199.6,358.4 199.8,359.5" fill="none" stroke="#c81e1e" stroke-width="1.4" stroke-linejoin="bevel"/>
<path d="M41.0,215.0 41.2,217.0 41.4,218.7 41.6,221.2 41.8,223.7 42.0,227.6 42.2,227.7 42.4,228.1 42.6,231.0 42.8,233.2 43.0,232.2 43.2,236.1 43.4,234.2 43.6,235.9 43.8,235.6 44.0,236.6 44.2,237.1 44.4,237.6 44.6,237.6 44.8,239.9 45.0,239.6 45.2,241.4 45.4,241.9 45.6,241.8 45.8,242.5 46.0,243.4 46.2,243.3 46.4,244.6 46.6,244.8 46.8,245.0 47.0,245.1 47.2,246.2 47.4,247.6 47.6,247.9 47.8,248.7 48.0,248.4 48.2,249.4 48.4,250.1 48.6,250.2 48.8,250.1 49.0,250.8 49.2,250.9 49.4,251.6 49.6,253.1 49.8,251.5 50.0,252.5 50.2,252.7 50.4,253.8 50.6,255.1 50.8,254.5 51.0,253.1 51.2,255.5 51.4,255.8 51.6,255.1 51.8,255.9 52.0,256.4 52.2,255.6 52.4,257.5 52.6,257.6 52.8,258.2 53.0,257.7 53.2,258.1 53.4,258.6 53.6,259.5 53.8,259.0 54.0,261.1 54.2,260.4 54.4,259.4 54.6,261.7 54.8,261.5 55.0,261.7 55.2,262.0 55.4,261.4 55.6,262.8 55.8,261.9 56.0,262.6 56.2,264.3 56.4,264.4 56.6,264.0 56.8,264.2 57.0,265.8 57.2,265.1 57.4,265.8 57.6,266.6 57.8,265.5 58.0,267.0 58.2,266.3 58.4,267.9 58.6,266.6 58.8,267.5 59.0,267.7 59.2,269.2 59.4,269.4 59.6,269.5 59.8,269.6 60.0,269.9 60.2,269.9 60.4,269.3 60.6,269.9 60.8,269.7 61.0,271.4 61.2,271.3 61.4,271.8 61.6,272.2 61.8,272.3 62.0,272.2 62.2,272.9 62.4,272.4 62.6,274.6 62.8,274.9 63.0,273.3 63.2,274.4 63.4,275.7 63.6,276.6 63.8,275.4 64.0,276.7 64.2,277.3 64.4,275.4 64.6,276.4 64.8,277.6 65.0,276.9 65.2,279.6 65.4,279.2 65.6,279.1 65.8,277.8 66.0,280.6 66.2,280.9 66.4,279.5 66.6,280.3 66.8,279.1 67.0,280.9 67.2,281.5 67.4,281.8 67.6,281.8 67.8,282.4 68.0,281.3 68.2,281.9 68.4,283.8 68.6,283.6 68.8,282.4 69.0,284.3 69.2,284.5 69.4,285.6 69.6,284.2 69.8,284.8 70.0,285.8 70.2,287.1 70.4,285.6 70.6,285.0 70.8,286.0 71.0,286.2 71.2,286.3 71.4,286.2 71.6,288.0 71.8,288.3 72.0,288.9 72.2,290.2 72.4,288.6 72.6,287.0 72.8,288.8 73.0,288.3 73.2,289.3 73.4,288.4 73.6,289.6 73.8,289.8 74.0,286.6 74.2,289.3 74.4,290.9 74.6,291.8 74.8,290.4 75.0,290.0 75.2,291.9 75.4,290.9 75.6,290.8 75.8,292.8 76.0,295.4 76.2,292.5 76.4,291.1 76.6,294.5 76.8,291.9 77.0,291.5 77.2,295.3 77.4,294.4 77.6,291.5 77.8,292.2 78.0,293.1 78.2,292.2 78.4,290.6 78.6,295.4 78.8,294.8 79.0,296.0 79.2,295.0 79.4,296.4 79.6,295.3 79.8,293.3 80.0,294.6 80.2,294.3 80.4,297.7 80.6,296.9 80.8,293.3 81.0,294.8 81.2,299.2 81.4,295.1 81.6,298.0 81.8,296.1 82.0,299.2 82.2,296.9 82.4,296.4 82.6,295.3 82.8,297.1 83.0,299.4 83.2,299.0 83.4,296.3 83.6,302.7 83.8,298.9 84.0,298.9 84.2,299.4 84.4,298.7 84.6,298.2 84.8,298.5 85.0,302.0 85.2,301.0 85.4,297.7 85.6,302.0 85.8,300.8 86.0,302.8 86.2,304.4 86.4,304.4 86.6,302.4 86.8,304.0 87.0,301.9 87.2,301.5 87.4,302.7 87.6,296.9 87.8,302.1 88.0,303.2 88.2,303.9 88.4,306.6 88.6,306.3 88.8,305.3 89.0,302.7 89.2,308.1 89.4,303.0 89.6,304.6 89.8,307.1 90.0,306.9 90.2,311.6 90.4,305.9 90.6,301.0 90.8,307.6 91.0,308.3 91.2,305.6 91.4,309.0 91.6,310.7 91.8,308.1 92.0,305.4 92.2,303.9 92.4,309.7 92.6,308.4 92.8,308.6 93.0,306.1 93.2,307.4 93.4,305.6 93.6,305.9 93.8,306.1 94.0,304.8 94.2,307.9 94.4,312.5 94.6,310.3 94.8,309.4 95.0,309.1 95.2,309.5 95.4,311.5 95.6,310.4 95.8,310.0 96.0,309.6 96.2,311.2 96.4,310.6 96.6,308.8 96.8,313.5 97.0,308.1 97.2,312.7 97.4,312.2 97.6,318.3 97.8,316.1 98.0,310.9 98.2,311.2 98.4,309.9 98.6,314.7 98.8,315.8 99.0,321.6 99.2,310.4 99.4,317.8 99.6,315.0 99.8,317.2 100.0,318.4 100.2,315.9 100.4,316.2 100.6,314.3 100.8,318.9 101.0,315.8 101.2,318.4 101.4,316.6 101.6,317.0 101.8,312.6 102.0,315.5 102.2,314.6 102.4,321.6 102.6,322.7 102.8,321.1 103.0,314.4 103.2,317.8 103.4,314.7 103.6,319.8 103.8,324.4 104.0,320.7 104.2,321.0 104.4,319.4 104.6,313.2 104.8,314.2 105.0,320.3 105.2,323.8 105.4,323.8 105.6,320.7 105.8,324.2 106.0,323.0 106.2,324.8 106.4,322.9 106.6,320.4 106.8,324.4 107.0,323.0 107.2,324.7 107.4,319.9 107.6,321.9 107.8,319.8 108.0,317.1 108.2,321.9 108.4,325.1 108.6,326.9 108.8,327.8 109.0,323.0 109.2,329.4 109.4,321.8 109.6,327.4 109.8,320.0 110.0,327.0 110.2,324.0 110.4,324.0 110.6,328.2 110.8,319.5 111.0,326.4 111.2,323.1 111.4,328.3 111.6,331.3 111.8,324.4 112.0,325.8 112.2,325.4 112.4,329.8 112.6,325.5 112.8,329.7 113.0,323.4 113.2,335.4 113.4,325.8 113.6,332.9 113.8,331.6 114.0,332.0 114.2,330.2 114.4,334.5 114.6,331.2 114.8,335.7 115.0,335.7 115.2,332.9 115.4,334.9 115.6,328.8 115.8,334.7 116.0,331.7 116.2,329.2 116.4,333.9 116.6,329.4 116.8,337.0 117.0,330.8 117.2,333.6 117.4,334.6 117.6,327.0 117.8,334.5 118.0,328.5 118.2,339.8 118.4,338.0 118.6,334.5 118.8,331.7 119.0,333.5 119.2,333.8 119.4,338.2 119.6,333.3 119.8,332.3 120.0,335.1 120.2,337.7 120.4,343.9 120.6,335.7 120.8,336.8 121.0,337.1 121.2,331.7 121.4,335.6 121.6,336.7 121.8,339.0 122.0,337.7 122.2,344.2 122.4,341.5 122.6,332.7 122.8,336.4 123.0,341.0 123.2,336.6 123.4,340.5 123.6,343.0 123.8,340.4 124.0,338.8 124.2,338.5 124.4,383.4 124.6,341.7 124.8,337.5 125.0,346.9 125.2,343.3 125.4,341.6 125.6,343.2 125.8,340.0 126.0,341.8 126.2,343.9 126.4,338.9 126.6,339.8 126.8,386.0 127.0,344.8 127.2,342.7 127.4,341.4 127.6,340.6 127.8,345.5 128.0,362.4 128.2,339.0 128.4,345.5 128.6,346.5 128.8,381.2 129.0,349.5 129.2,338.3 129.4,383.4 129.6,346.6 129.8,340.6 130.0,349.7 130.2,346.0 130.4,386.0 130.6,343.0 130.8,343.7 131.0,343.9 131.2,378.8 131.4,350.2 131.6,338.1 131.8,345.1 132.0,381.2 132.2,349.7 132.4,384.9 132.6,342.5 132.8,357.9 133.0,344.6 133.2,343.7 133.4,348.2 133.6,349.0 133.8,348.4 134.0,342.4 134.2,358.2 134.4,386.0 134.6,386.0 134.8,346.5 135.0,338.1 135.2,344.1 135.4,345.0 135.6,361.4 135.8,351.1 136.0,346.4 136.2,376.1 136.4,351.7 136.6,351.0 136.8,351.3 137.0,350.2 137.2,346.5 137.4,375.2 137.6,347.6 137.8,350.7 138.0,386.0 138.2,343.2 138.4,386.0 138.6,377.5 138.8,354.7 139.0,386.0 139.2,386.0 139.4,354.9 139.6,346.5 139.8,348.2 140.0,380.8 140.2,376.3 140.4,360.7 140.6,354.8 140.8,352.7 141.0,386.0 141.2,350.3 141.4,350.6 141.6,349.9 141.8,350.4 142.0,354.6 142.2,384.3 142.4,357.9 142.6,347.2 142.8,353.2 143.0,382.0 143.2,354.3 143.4,353.5 143.6,347.5 143.8,386.0 144.0,350.0 144.2,384.8 144.4,349.6 144.6,346.3 144.8,381.7 145.0,354.4 145.2,386.0 145.4,347.3 145.6,349.8 145.8,345.8 146.0,348.0 146.2,366.0 146.4,354.2 146.6,354.3 146.8,349.1 147.0,347.0 147.2,344.0 147.4,351.4 147.6,357.4 147.8,358.8 148.0,344.7 148.2,352.2 148.4,386.0 148.6,347.2 148.8,355.0 149.0,345.9 149.2,386.0 149.4,358.4 149.6,354.2 149.8,368.4 150.0,352.6 150.2,354.6 150.4,358.3 150.6,358.8 150.8,353.1 151.0,354.0 151.2,355.9 151.4,349.1 151.6,352.8 151.8,373.7 152.0,363.0 152.2,356.2 152.4,354.0 152.6,357.7 152.8,351.2 153.0,386.0 153.2,357.5 153.4,386.0 153.6,354.7 153.8,353.6 154.0,348.8 154.2,352.0 154.4,351.3 154.6,354.7 154.8,353.1 155.0,357.9 155.2,359.1 155.4,383.6 155.6,353.4 155.8,353.0 156.0,362.8 156.2,357.9 156.4,353.2 156.6,386.0 156.8,350.9 157.0,345.3 157.2,353.3 157.4,353.2 157.6,351.5 157.8,355.4 158.0,360.5 158.2,358.8 158.4,360.1 158.6,356.3 158.8,353.6 159.0,364.1 159.2,358.1 159.4,352.8 159.6,359.0 159.8,359.1 160.0,386.0 160.2,352.0 160.4,371.1 160.6,386.0 160.8,359.0 161.0,361.7 161.2,386.0 161.4,386.0 161.6,386.0 161.8,351.6 162.0,360.9 162.2,349.5 162.4,356.3 162.6,359.7 162.8,349.4 163.0,362.6 163.2,351.5 163.4,359.6 163.6,356.9 163.8,358.8 164.0,353.1 164.2,365.6 164.4,359.4 164.6,362.8 164.8,360.1 165.0,358.5 165.2,359.3 165.4,355.3 165.6,361.7 165.8,357.9 166.0,360.1 166.2,353.0 166.4,358.0 166.6,358.6 166.8,356.3 167.0,357.5 167.2,359.9 167.4,353.5 167.6,358.8 167.8,353.9 168.0,386.0 168.2,380.6 168.4,360.7 168.6,353.4 168.8,350.5 169.0,365.2 169.2,355.0 169.4,356.7 169.6,367.7 169.8,365.7 170.0,363.5 170.2,362.2 170.4,362.6 170.6,364.4 170.8,357.3 171.0,355.4 171.2,358.8 171.4,363.0 171.6,363.0 171.8,358.4 172.0,363.7 172.2,358.0 172.4,361.6 172.6,357.3 172.8,362.9 173.0,362.2 173.2,361.4 173.4,359.7 173.6,359.1 173.8,358.7 174.0,359.6 174.2,386.0 174.4,357.9 174.6,357.0 174.8,350.5 175.0,349.8 175.2,362.7 175.4,366.4 175.6,353.8 175.8,358.2 176.0,356.2 176.2,364.4 176.4,362.3 176.6,361.2 176.8,367.2 177.0,365.6 177.2,363.2 177.4,360.3 177.6,356.8 177.8,357.7 178.0,355.7 178.2,367.2 178.4,359.4 178.6,361.3 178.8,361.6 179.0,368.2 179.2,366.1 179.4,367.7 179.6,362.8 179.8,359.9 180.0,353.3 180.2,366.2 180.4,362.1 180.6,359.0 180.8,362.1 181.0,363.2 181.2,365.0 181.4,359.0 181.6,364.1 181.8,364.6 182.0,364.5 182.2,365.8 182.4,360.9 182.6,367.6 182.8,360.6 183.0,357.7 183.2,363.1 183.4,366.0 183.6,386.0 183.8,362.3 184.0,362.2 184.2,365.7 184.4,363.3 184.6,368.9 184.8,356.9 185.0,367.3 185.2,364.4 185.4,359.9 185.6,366.7 185.8,363.7 186.0,371.3 186.2,362.6 186.4,370.9 186.6,362.8 186.8,357.6 187.0,366.9 187.2,361.0 187.4,363.1 187.6,362.2 187.8,358.2 188.0,365.3 188.2,362.3 188.4,363.5 188.6,368.2 188.8,363.2 189.0,363.0 189.2,360.0 189.4,363.9 189.6,369.9 189.8,360.8 190.0,362.6 190.2,368.8 190.4,364.2 190.6,364.4 190.8,372.3 191.0,360.1 191.2,368.0 191.4,357.1 191.6,366.0 191.8,366.4 192.0,371.0 192.2,361.7 192.4,367.2 192.6,369.5 192.8,365.2 193.0,374.3 193.2,366.5 193.4,362.8 193.6,366.7 193.8,361.5 194.0,372.3 194.2,370.1 194.4,365.0 194.6,370.4 194.8,367.5 195.0,372.1 195.2,362.9 195.4,361.3 195.6,358.0 195.8,366.0" fill="none" stroke="#1e14f5" stroke-width="1.4" stroke-linejoin="bevel"/>
<path d="M192.3,351.8V383" stroke="#c81e1e" stroke-width="1.2"/>
<path d="M194.5,365.6V383" stroke="#c81e1e" stroke-width="1.2"/>
<path d="M203.9,355.5V383" stroke="#c81e1e" stroke-width="1.2"/>
<path d="M208.3,370.7V383" stroke="#c81e1e" stroke-width="1.2"/>
<path d="M185,357.6V383" stroke="#1e14f5" stroke-width="1.2"/>
<path d="M189.4,371.5V383" stroke="#1e14f5" stroke-width="1.2"/>
<path d="M201,367.8V383" stroke="#1e14f5" stroke-width="1.2"/>
<path d="M110.5,350V383" stroke="#0a0a0a" stroke-width="1.2"/>
<path d="M103,345V383" stroke="#0a0a0a" stroke-width="1.2"/>
</g>
<rect x="40.7" y="213.2" width="220.3" height="169.8" fill="none" stroke="#111" stroke-width="1.4"/>
<path d="M114.13,383v-5.5M114.13,213.2v5.5M187.57,383v-5.5M187.57,213.2v5.5M40.7,349.04h5.5M261,349.04h-5.5M40.7,315.08h5.5M261,315.08h-5.5M40.7,281.12h5.5M261,281.12h-5.5M40.7,247.16h5.5M261,247.16h-5.5" stroke="#111" stroke-width="1.4" fill="none"/>
<path d="M309.6,86.3 C310.52,87.42 312.83,89.68 315.1,93 C317.37,96.32 320.5,101.63 323.2,106.2 C325.9,110.77 328.6,115.68 331.3,120.4 C334,125.12 336.7,130.28 339.4,134.5 C342.1,138.72 344.47,141.98 347.5,145.7 C350.53,149.42 354.22,153.67 357.6,156.8 C360.98,159.93 366.1,163.22 367.8,164.5 L372,172 L309.6,172 Z" fill="#f6f6f6"/>
<rect x="328" y="166.5" width="36" height="5.6" fill="#fff"/>
<path d="M309.6,97.5 C310.85,98.27 314.5,100.15 317.1,102.1 C319.7,104.05 322.15,106.15 325.2,109.2 C328.25,112.25 332.02,116.68 335.4,120.4 C338.78,124.12 342.13,128.13 345.5,131.5 C348.87,134.87 352.23,137.9 355.6,140.6 C358.97,143.3 362.32,145.75 365.7,147.7 C369.08,149.65 372.6,151.92 375.9,152.3 C379.2,152.68 382.87,151.5 385.5,150 C388.13,148.5 389.83,145.52 391.7,143.3 C393.57,141.08 395.18,139.47 396.7,136.7 C398.22,133.93 399.7,130.03 400.8,126.7 C401.9,123.37 402.55,120.03 403.3,116.7 C404.05,113.37 404.73,110.03 405.3,106.7 C405.87,103.37 406.2,101.48 406.7,96.7 C407.2,91.92 407.82,82.53 408.3,78 C408.78,73.47 409.12,71.75 409.6,69.5 C410.08,67.25 410.63,65.92 411.2,64.5 C411.77,63.08 412.43,62.92 413,61 C413.57,59.08 413.98,55.7 414.6,53 C415.22,50.3 416.08,44.8 416.7,44.8 C417.32,44.8 417.88,50.3 418.3,53 C418.72,55.7 418.88,58 419.2,61 C419.52,64 419.85,68.25 420.2,71 C420.55,73.75 420.88,75.42 421.3,77.5 C421.72,79.58 422.08,81.58 422.7,83.5 C423.32,85.42 424.22,88.53 425,89 C425.78,89.47 426.9,86.92 427.4,86.3 C427.9,85.68 427.6,85 428,85.3 C428.4,85.6 429.3,86.25 429.8,88.1 C430.3,89.95 430.62,93.82 431,96.4 C431.38,98.98 431.62,101.22 432.1,103.6 C432.58,105.98 433.2,108.32 433.9,110.7 C434.6,113.08 435.4,115.43 436.3,117.9 C437.2,120.37 438.13,122.37 439.3,125.5 C440.47,128.63 442.03,133.85 443.3,136.7 C444.57,139.55 445.5,140.62 446.9,142.6 C448.3,144.58 449.92,146.72 451.7,148.6 C453.48,150.48 455.62,152.42 457.6,153.9 C459.58,155.38 461.82,156.77 463.6,157.5 C465.38,158.23 466.52,158.4 468.3,158.3 C470.08,158.2 472.32,157.53 474.3,156.9 C476.28,156.27 477.62,156.38 480.2,154.5 C482.78,152.62 485.95,149.53 489.8,145.6 C493.65,141.67 498.78,136.18 503.3,130.9 C507.82,125.62 512.37,118.98 516.9,113.9 C521.43,108.82 527.3,103.22 530.5,100.4 C533.7,97.58 535.17,97.57 536.1,97" fill="none" stroke="#c81e1e" stroke-width="1.9" stroke-linejoin="round"/>
<path d="M309.6,86.3 C310.52,87.42 312.83,89.68 315.1,93 C317.37,96.32 320.5,101.63 323.2,106.2 C325.9,110.77 328.6,115.68 331.3,120.4 C334,125.12 336.7,130.28 339.4,134.5 C342.1,138.72 344.47,141.98 347.5,145.7 C350.53,149.42 354.22,153.67 357.6,156.8 C360.98,159.93 364.75,163.2 367.8,164.5 C370.85,165.8 372.87,165.77 375.9,164.6 C378.93,163.43 383.37,160.22 386,157.5 C388.63,154.78 389.92,151.22 391.7,148.3 C393.48,145.38 395.32,142.72 396.7,140 C398.08,137.28 398.62,134.58 400,132 C401.38,129.42 403.33,127.05 405,124.5 C406.67,121.95 408.62,118.87 410,116.7 C411.38,114.53 411.92,113.25 413.3,111.5 C414.68,109.75 416.77,108.12 418.3,106.2 C419.83,104.28 421.38,101.93 422.5,100 C423.62,98.07 423.98,96.23 425,94.6 C426.02,92.97 427.6,91.88 428.6,90.2 C429.6,88.52 430.22,86.13 431,84.5 C431.78,82.87 432.62,80.6 433.3,80.4 C433.98,80.2 434.5,81.78 435.1,83.3 C435.7,84.82 436.3,87.8 436.9,89.5 C437.5,91.2 438.1,91.65 438.7,93.5 C439.3,95.35 439.9,97.93 440.5,100.6 C441.1,103.27 441.72,106.62 442.3,109.5 C442.88,112.38 443.42,115.32 444,117.9 C444.58,120.48 445.32,123.07 445.8,125 C446.28,126.93 446.12,127.35 446.9,129.5 C447.68,131.65 449.12,135.12 450.5,137.9 C451.88,140.68 453.62,143.63 455.2,146.2 C456.78,148.77 458.2,151.12 460,153.3 C461.8,155.48 464.02,157.9 466,159.3 C467.98,160.7 470.12,161.35 471.9,161.7 C473.68,162.05 475.12,161.8 476.7,161.4 C478.28,161 479.98,160.2 481.4,159.3 C482.82,158.4 482.3,159.03 485.2,156 C488.1,152.97 494.27,146.98 498.8,141.1 C503.33,135.22 507.87,127.48 512.4,120.7 C516.93,113.92 522.05,106.05 526,100.4 C529.95,94.75 534.42,89.07 536.1,86.8" fill="none" stroke="#0a0a0a" stroke-width="1.9" stroke-linejoin="round"/>
<path d="M309.6,91.2 C310.52,91.85 312.83,92.77 315.1,95.1 C317.37,97.43 320.5,101.33 323.2,105.2 C325.9,109.07 328.27,113.42 331.3,118.3 C334.33,123.18 338.02,129.43 341.4,134.5 C344.78,139.57 348.22,144.65 351.6,148.7 C354.98,152.75 358.33,155.93 361.7,158.8 C365.07,161.67 368.43,164.07 371.8,165.9 C375.17,167.73 378.87,169.37 381.9,169.8 C384.93,170.23 387.65,169.88 390,168.5 C392.35,167.12 394.05,164.58 396,161.5 C397.95,158.42 399.92,154.42 401.7,150 C403.48,145.58 405.32,140 406.7,135 C408.08,130 409.03,124.72 410,120 C410.97,115.28 411.8,110.87 412.5,106.7 C413.2,102.53 413.75,98.45 414.2,95 C414.65,91.55 414.92,89 415.2,86 C415.48,83 415.63,79.83 415.9,77 C416.17,74.17 416.48,71.83 416.8,69 C417.12,66.17 417.27,63.08 417.8,60 C418.33,56.92 419.22,53 420,50.5 C420.78,48 421.78,46.83 422.5,45 C423.22,43.17 423.83,41.25 424.3,39.5 C424.77,37.75 424.9,36.92 425.3,34.5 C425.7,32.08 426.25,28.08 426.7,25 C427.15,21.92 427.58,18.2 428,16 C428.42,13.8 428.82,11.63 429.2,11.8 C429.58,11.97 430.02,14.8 430.3,17 C430.58,19.2 430.57,21.92 430.9,25 C431.23,28.08 431.87,32.83 432.3,35.5 C432.73,38.17 432.95,38.92 433.5,41 C434.05,43.08 435.07,45.17 435.6,48 C436.13,50.83 436.35,53.67 436.7,58 C437.05,62.33 437.37,68.78 437.7,74 C438.03,79.22 438.33,85.17 438.7,89.3 C439.07,93.43 439.5,95.83 439.9,98.8 C440.3,101.77 440.7,104.12 441.1,107.1 C441.5,110.08 441.97,113.72 442.3,116.7 C442.63,119.68 442.73,122.47 443.1,125 C443.47,127.53 443.87,128.97 444.5,131.9 C445.13,134.83 445.9,139.23 446.9,142.6 C447.9,145.97 449.12,149.12 450.5,152.1 C451.88,155.08 453.42,158.12 455.2,160.5 C456.98,162.88 459.22,165.12 461.2,166.4 C463.18,167.68 465.12,168.1 467.1,168.2 C469.08,168.3 471.12,167.7 473.1,167 C475.08,166.3 477.02,165.48 479,164 C480.98,162.52 482.45,160.78 485,158.1 C487.55,155.42 490.48,153 494.3,147.9 C498.12,142.8 503.38,134.67 507.9,127.5 C512.42,120.33 516.7,111.12 521.4,104.9 C526.1,98.68 533.65,92.65 536.1,90.2" fill="none" stroke="#1e14f5" stroke-width="1.9" stroke-linejoin="round"/>
<rect x="309.6" y="2.2" width="226.5" height="169.9" fill="none" stroke="#333" stroke-width="1.3"/>
<path d="M366.23,172.1v-5.5M366.23,2.2v5.5M422.85,172.1v-5.5M422.85,2.2v5.5M479.48,172.1v-5.5M479.48,2.2v5.5M309.6,118.9h5.5M536.1,118.9h-5.5M309.6,65.7h5.5M536.1,65.7h-5.5M309.6,12.5h5.5M536.1,12.5h-5.5" stroke="#333" stroke-width="1.3" fill="none"/>
<path d="M311.5,383 C322.92,383 365.52,383.25 380,383 C394.48,382.75 393.45,382.23 398.4,381.5 C403.35,380.77 406.3,379.73 409.7,378.6 C413.1,377.47 416.42,375.67 418.8,374.7 C421.18,373.73 422.5,373.28 424,372.8 C425.5,372.32 426.03,371.48 427.8,371.8 C429.57,372.12 431.97,373.45 434.6,374.7 C437.23,375.95 440.22,378.05 443.6,379.3 C446.98,380.55 450.5,381.58 454.9,382.2 C459.3,382.82 456.55,382.87 470,383 C483.45,383.13 524.67,383 535.6,383" fill="none" stroke="#0a0a0a" stroke-width="1.9" stroke-linejoin="round"/>
<path d="M311.5,382.3 C317.92,382.3 340.03,382.32 350,382.3 C359.97,382.28 364.73,382.52 371.3,382.2 C377.87,381.88 384.13,381.45 389.4,380.4 C394.67,379.35 399.52,378.17 402.9,375.9 C406.28,373.63 408,370.57 409.7,366.8 C411.4,363.03 412.15,358.57 413.1,353.3 C414.05,348.03 414.78,340.08 415.4,335.2 C416.02,330.32 416.32,326.48 416.8,324 C417.28,321.52 417.68,320.63 418.3,320.3 C418.92,319.97 419.72,321.22 420.5,322 C421.28,322.78 422.17,324.23 423,325 C423.83,325.77 424.7,326.6 425.5,326.6 C426.3,326.6 427.05,323.57 427.8,325 C428.55,326.43 429.25,330.48 430,335.2 C430.75,339.92 431.35,348.03 432.3,353.3 C433.25,358.57 434.18,363.23 435.7,366.8 C437.22,370.37 438.2,372.43 441.4,374.7 C444.6,376.97 449.63,379.15 454.9,380.4 C460.17,381.65 459.55,381.88 473,382.2 C486.45,382.52 525.17,382.28 535.6,382.3" fill="none" stroke="#c81e1e" stroke-width="1.9" stroke-linejoin="round"/>
<path d="M311.5,379.6 C314.58,379.67 323.58,379.9 330,380 C336.42,380.1 343.87,380.2 350,380.2 C356.13,380.2 361.37,380.35 366.8,380 C372.23,379.65 378.08,379.17 382.6,378.1 C387.12,377.03 390.52,376.23 393.9,373.6 C397.28,370.97 400.63,366.07 402.9,362.3 C405.17,358.53 406.18,355.52 407.5,351 C408.82,346.48 409.87,341.6 410.8,335.2 C411.73,328.8 412.52,318.47 413.1,312.6 C413.68,306.73 413.75,307.1 414.3,300 C414.85,292.9 415.68,277.5 416.4,270 C417.12,262.5 417.7,259.28 418.6,255 C419.5,250.72 420.73,247.52 421.8,244.3 C422.87,241.08 424.05,238.67 425,235.7 C425.95,232.73 426.78,227.22 427.5,226.5 C428.22,225.78 428.83,227.02 429.3,231.4 C429.77,235.78 429.88,245.67 430.3,252.8 C430.72,259.93 431.33,266.33 431.8,274.2 C432.27,282.07 432.83,293.6 433.1,300 C433.37,306.4 432.97,306.73 433.4,312.6 C433.83,318.47 434.75,328.8 435.7,335.2 C436.65,341.6 437.6,346.48 439.1,351 C440.6,355.52 442.07,358.72 444.7,362.3 C447.33,365.88 450.93,369.87 454.9,372.5 C458.87,375.13 464.32,376.97 468.5,378.1 C472.68,379.23 474.75,379.05 480,379.3 C485.25,379.55 490.73,379.62 500,379.6 C509.27,379.58 529.67,379.27 535.6,379.2" fill="none" stroke="#1e14f5" stroke-width="1.9" stroke-linejoin="round"/>
<rect x="311.2" y="213.3" width="224.7" height="170" fill="none" stroke="#333" stroke-width="1.3"/>
<path d="M367.38,383.3v-5.5M367.38,213.3v5.5M423.55,383.3v-5.5M423.55,213.3v5.5M479.73,383.3v-5.5M479.73,213.3v5.5M311.2,340.8h5.5M535.9,340.8h-5.5M311.2,298.3h5.5M535.9,298.3h-5.5M311.2,255.8h5.5M535.9,255.8h-5.5" stroke="#333" stroke-width="1.3" fill="none"/>
<rect x="125.4" y="18.4" width="98" height="84.4" fill="#fff"/>
<defs><filter id="blr" x="-20%" y="-20%" width="140%" height="140%"><feGaussianBlur stdDeviation="1.1"/></filter><filter id="blr2" x="-30%" y="-30%" width="160%" height="160%"><feGaussianBlur stdDeviation="2.5"/></filter><linearGradient id="cbar" x1="0" y1="0" x2="0" y2="1"><stop offset="0" stop-color="#000"/><stop offset="0.06" stop-color="#1a0202"/><stop offset="0.2" stop-color="#7e0e0e"/><stop offset="0.32" stop-color="#b41818"/><stop offset="0.44" stop-color="#c81e1e"/><stop offset="0.67" stop-color="#cc2424"/><stop offset="0.74" stop-color="#d43a3a"/><stop offset="0.85" stop-color="#e27878"/><stop offset="0.93" stop-color="#f2c0c0"/><stop offset="1" stop-color="#fdf6f6"/></linearGradient></defs>
<g clip-path="url(#cpI)">
<clipPath id="cpI"><rect x="125.4" y="18.4" width="98" height="84.4"/></clipPath>
<ellipse cx="150" cy="59.5" rx="15" ry="6" fill="#efb9b9" opacity="0.6" filter="url(#blr2)"/>
<ellipse cx="194" cy="63" rx="17" ry="20" fill="#eeb0b0" opacity="0.7" filter="url(#blr2)"/>
<ellipse cx="158" cy="59.5" rx="1.3" ry="8" fill="#c41a1a" opacity="0.28" transform="rotate(-9 158 59.5)" filter="url(#blr)"/>
<ellipse cx="160.4" cy="59.5" rx="1.0" ry="6.8" fill="#d84a4a" opacity="0.12600000000000003" transform="rotate(9 160.4 59.5)" filter="url(#blr)"/>
<ellipse cx="163" cy="60" rx="1.3" ry="11" fill="#c41a1a" opacity="0.42" transform="rotate(-9 163 60)" filter="url(#blr)"/>
<ellipse cx="165.4" cy="60" rx="1.0" ry="9.35" fill="#d84a4a" opacity="0.189" transform="rotate(9 165.4 60)" filter="url(#blr)"/>
<ellipse cx="168" cy="60.5" rx="1.3" ry="15" fill="#c41a1a" opacity="0.56" transform="rotate(-9 168 60.5)" filter="url(#blr)"/>
<ellipse cx="170.4" cy="60.5" rx="1.0" ry="12.75" fill="#d84a4a" opacity="0.25200000000000006" transform="rotate(9 170.4 60.5)" filter="url(#blr)"/>
<ellipse cx="173" cy="61" rx="1.3" ry="18" fill="#c41a1a" opacity="0.72" transform="rotate(-9 173 61)" filter="url(#blr)"/>
<ellipse cx="175.4" cy="61" rx="1.0" ry="15.299999999999999" fill="#d84a4a" opacity="0.324" transform="rotate(9 175.4 61)" filter="url(#blr)"/>
<ellipse cx="178" cy="61.5" rx="1.3" ry="20.5" fill="#c41a1a" opacity="0.9" transform="rotate(-9 178 61.5)" filter="url(#blr)"/>
<ellipse cx="180.4" cy="61.5" rx="1.0" ry="17.425" fill="#d84a4a" opacity="0.405" transform="rotate(9 180.4 61.5)" filter="url(#blr)"/>
<ellipse cx="183" cy="62" rx="1.3" ry="22" fill="#c41a1a" opacity="1" transform="rotate(-9 183 62)" filter="url(#blr)"/>
<ellipse cx="185.4" cy="62" rx="1.0" ry="18.7" fill="#d84a4a" opacity="0.45" transform="rotate(9 185.4 62)" filter="url(#blr)"/>
<ellipse cx="188" cy="62.5" rx="1.3" ry="22.5" fill="#c41a1a" opacity="0.95" transform="rotate(-9 188 62.5)" filter="url(#blr)"/>
<ellipse cx="190.4" cy="62.5" rx="1.0" ry="19.125" fill="#d84a4a" opacity="0.4275" transform="rotate(9 190.4 62.5)" filter="url(#blr)"/>
<ellipse cx="193" cy="63" rx="1.3" ry="23" fill="#c41a1a" opacity="0.78" transform="rotate(-9 193 63)" filter="url(#blr)"/>
<ellipse cx="195.4" cy="63" rx="1.0" ry="19.55" fill="#d84a4a" opacity="0.35100000000000003" transform="rotate(9 195.4 63)" filter="url(#blr)"/>
<ellipse cx="198" cy="64" rx="1.3" ry="23" fill="#c41a1a" opacity="0.6" transform="rotate(-9 198 64)" filter="url(#blr)"/>
<ellipse cx="200.4" cy="64" rx="1.0" ry="19.55" fill="#d84a4a" opacity="0.27" transform="rotate(9 200.4 64)" filter="url(#blr)"/>
<ellipse cx="203" cy="65" rx="1.3" ry="22" fill="#c41a1a" opacity="0.5" transform="rotate(-9 203 65)" filter="url(#blr)"/>
<ellipse cx="205.4" cy="65" rx="1.0" ry="18.7" fill="#d84a4a" opacity="0.225" transform="rotate(9 205.4 65)" filter="url(#blr)"/>
<ellipse cx="207.5" cy="65" rx="1.3" ry="20" fill="#c41a1a" opacity="0.45" transform="rotate(-9 207.5 65)" filter="url(#blr)"/>
<ellipse cx="209.9" cy="65" rx="1.0" ry="17.0" fill="#d84a4a" opacity="0.2025" transform="rotate(9 209.9 65)" filter="url(#blr)"/>
<ellipse cx="211" cy="64" rx="1.3" ry="16" fill="#c41a1a" opacity="0.38" transform="rotate(-9 211 64)" filter="url(#blr)"/>
<ellipse cx="213.4" cy="64" rx="1.0" ry="13.6" fill="#d84a4a" opacity="0.171" transform="rotate(9 213.4 64)" filter="url(#blr)"/>
</g>
<rect x="125.4" y="18.4" width="98" height="84.4" fill="none" stroke="#333" stroke-width="1.2"/>
<path d="M128,102.8v-2.5M128,18.4v2.5M156.3,102.8v-2.5M156.3,18.4v2.5M184.2,102.8v-2.5M184.2,18.4v2.5M210.6,102.8v-2.5M210.6,18.4v2.5M125.4,25.2h2.5M223.4,25.2h-2.5M125.4,60.7h2.5M223.4,60.7h-2.5M125.4,96.2h2.5M223.4,96.2h-2.5" stroke="#333" stroke-width="1"/>
<rect x="228.5" y="18" width="6.3" height="85" fill="url(#cbar)" stroke="#aaa" stroke-width="0.6"/>
<text x="236" y="30" font-size="14.5" text-anchor="start" font-weight="normal" fill="#000" stroke="#000" stroke-width="0.3" >8</text>
<text x="236" y="69" font-size="14.5" text-anchor="start" font-weight="normal" fill="#000" stroke="#000" stroke-width="0.3" >4</text>
<text x="236.5" y="108.4" font-size="14.5" text-anchor="start" font-weight="normal" fill="#000" stroke="#000" stroke-width="0.3" >0</text>
<text x="123.6" y="30.4" font-size="14" text-anchor="end" font-weight="normal" fill="#000" stroke="#000" stroke-width="0.3" >5</text>
<text x="123.6" y="65.7" font-size="14" text-anchor="end" font-weight="normal" fill="#000" stroke="#000" stroke-width="0.3" >0</text>
<text x="123.6" y="102.1" font-size="14" text-anchor="end" font-weight="normal" fill="#000" stroke="#000" stroke-width="0.3" >-5</text>
<text x="128" y="115.6" font-size="14" text-anchor="middle" font-weight="normal" fill="#000" stroke="#000" stroke-width="0.3" >10</text>
<text x="156.3" y="115.6" font-size="14" text-anchor="middle" font-weight="normal" fill="#000" stroke="#000" stroke-width="0.3" >15</text>
<text x="184.2" y="115.6" font-size="14" text-anchor="middle" font-weight="normal" fill="#000" stroke="#000" stroke-width="0.3" >20</text>
<text x="210.6" y="115.6" font-size="14" text-anchor="middle" font-weight="normal" fill="#000" stroke="#000" stroke-width="0.3" >25</text>
<text x="157.3" y="131.1" font-size="15" text-anchor="start" font-weight="normal" fill="#000" stroke="#000" stroke-width="0.3" textLength="37.5" lengthAdjust="spacingAndGlyphs">x (λ<tspan font-size="11" dy="6">0</tspan><tspan dy="-6">)</tspan></text>
<text transform="translate(105.6,77.5) rotate(-90)" font-size="16" textLength="34.8" lengthAdjust="spacingAndGlyphs">y(λ<tspan font-size="11" dy="4">0</tspan><tspan dy="-4">)</tspan></text>
<text x="127.6" y="36.4" font-size="14.5" font-weight="bold" textLength="14.6" lengthAdjust="spacingAndGlyphs">(e)</text>
<text x="142.6" y="36.2" font-size="13" textLength="6.2" lengthAdjust="spacingAndGlyphs">E</text>
<text x="149" y="38" font-size="8.5" fill="#666" textLength="8.6" lengthAdjust="spacingAndGlyphs">ke</text>
<text x="157.8" y="36.2" font-size="13" textLength="54.4" lengthAdjust="spacingAndGlyphs">(GeV),28T</text>
<text x="212.6" y="38.6" font-size="9" fill="#666" textLength="6" lengthAdjust="spacingAndGlyphs">O</text>
<text x="38.6" y="163.26" font-size="15.5" text-anchor="end" font-weight="normal" fill="#000" stroke="#000" stroke-width="0.3" >4</text>
<text x="38.6" y="134.97" font-size="15.5" text-anchor="end" font-weight="normal" fill="#000" stroke="#000" stroke-width="0.3" >6</text>
<text x="38.6" y="106.69" font-size="15.5" text-anchor="end" font-weight="normal" fill="#000" stroke="#000" stroke-width="0.3" >8</text>
<text x="38.6" y="78.41" font-size="15.5" text-anchor="end" font-weight="normal" fill="#000" stroke="#000" stroke-width="0.3" >10</text>
<text x="38.6" y="50.12" font-size="15.5" text-anchor="end" font-weight="normal" fill="#000" stroke="#000" stroke-width="0.3" >12</text>
<text x="38.6" y="21.84" font-size="15.5" text-anchor="end" font-weight="normal" fill="#000" stroke="#000" stroke-width="0.3" >14</text>
<text x="40.9" y="188.3" font-size="15" text-anchor="middle" font-weight="normal" fill="#000" stroke="#000" stroke-width="0.3" >0</text>
<text x="114.57" y="188.3" font-size="15" text-anchor="middle" font-weight="normal" fill="#000" stroke="#000" stroke-width="0.3" >10</text>
<text x="188.23" y="188.3" font-size="15" text-anchor="middle" font-weight="normal" fill="#000" stroke="#000" stroke-width="0.3" >20</text>
<text x="261.9" y="188.3" font-size="15" text-anchor="middle" font-weight="normal" fill="#000" stroke="#000" stroke-width="0.3" >30</text>
<text x="104.2" y="204.5" font-size="14" text-anchor="start" font-weight="normal" fill="#000" stroke="#000" stroke-width="0.3" textLength="92.3" lengthAdjust="spacingAndGlyphs">Energy (GeV)</text>
<text x="38.8" y="388.1" font-size="14.5" text-anchor="end" font-weight="normal" fill="#000" stroke="#000" stroke-width="0.3" >3</text>
<text x="38.8" y="354.14" font-size="14.5" text-anchor="end" font-weight="normal" fill="#000" stroke="#000" stroke-width="0.3" >4</text>
<text x="38.8" y="320.18" font-size="14.5" text-anchor="end" font-weight="normal" fill="#000" stroke="#000" stroke-width="0.3" >5</text>
<text x="38.8" y="286.22" font-size="14.5" text-anchor="end" font-weight="normal" fill="#000" stroke="#000" stroke-width="0.3" >6</text>
<text x="38.8" y="252.26" font-size="14.5" text-anchor="end" font-weight="normal" fill="#000" stroke="#000" stroke-width="0.3" >7</text>
<text x="38.8" y="218.3" font-size="14.5" text-anchor="end" font-weight="normal" fill="#000" stroke="#000" stroke-width="0.3" >8</text>
<text x="40.9" y="399.2" font-size="14.5" text-anchor="middle" font-weight="normal" fill="#000" stroke="#000" stroke-width="0.3" >0</text>
<text x="114.33" y="399.2" font-size="14.5" text-anchor="middle" font-weight="normal" fill="#000" stroke="#000" stroke-width="0.3" >10</text>
<text x="187.77" y="399.2" font-size="14.5" text-anchor="middle" font-weight="normal" fill="#000" stroke="#000" stroke-width="0.3" >20</text>
<text x="261.2" y="399.2" font-size="14.5" text-anchor="middle" font-weight="normal" fill="#000" stroke="#000" stroke-width="0.3" >30</text>
<text x="106.4" y="415.9" font-size="13.4" text-anchor="start" font-weight="normal" fill="#000" stroke="#000" stroke-width="0.3" textLength="87.8" lengthAdjust="spacingAndGlyphs">Energy (GeV)</text>
<text x="304.6" y="174.3" font-size="15" text-anchor="end" font-weight="normal" fill="#222" >2</text>
<text x="304.6" y="124.2" font-size="15" text-anchor="end" font-weight="normal" fill="#222" >3</text>
<text x="304.6" y="71.4" font-size="15" text-anchor="end" font-weight="normal" fill="#222" >4</text>
<text x="304.6" y="20.8" font-size="15" text-anchor="end" font-weight="normal" fill="#222" >5</text>
<text x="310.1" y="188.6" font-size="14.5" text-anchor="middle" font-weight="normal" fill="#222" >-180</text>
<text x="366.73" y="188.6" font-size="14.5" text-anchor="middle" font-weight="normal" fill="#222" >-90</text>
<text x="423.35" y="188.6" font-size="14.5" text-anchor="middle" font-weight="normal" fill="#222" >0</text>
<text x="479.98" y="188.6" font-size="14.5" text-anchor="middle" font-weight="normal" fill="#222" >90</text>
<text x="536.6" y="188.6" font-size="14.5" text-anchor="middle" font-weight="normal" fill="#222" >180</text>
<text x="374.7" y="205" font-size="14" text-anchor="start" font-weight="normal" fill="#222" textLength="96.9" lengthAdjust="spacingAndGlyphs">Divergence (°)</text>
<text x="305.6" y="385.8" font-size="14.5" text-anchor="end" font-weight="normal" fill="#222" >0</text>
<text x="305.6" y="345.9" font-size="14.5" text-anchor="end" font-weight="normal" fill="#222" >1</text>
<text x="305.6" y="303.4" font-size="14.5" text-anchor="end" font-weight="normal" fill="#222" >2</text>
<text x="305.6" y="260.9" font-size="14.5" text-anchor="end" font-weight="normal" fill="#222" >3</text>
<text x="305.6" y="222.6" font-size="14.5" text-anchor="end" font-weight="normal" fill="#222" >4</text>
<text x="311.5" y="398.7" font-size="14.5" text-anchor="middle" font-weight="normal" fill="#222" >-180</text>
<text x="367.68" y="398.7" font-size="14.5" text-anchor="middle" font-weight="normal" fill="#222" >-90</text>
<text x="423.85" y="398.7" font-size="14.5" text-anchor="middle" font-weight="normal" fill="#222" >0</text>
<text x="480.03" y="398.7" font-size="14.5" text-anchor="middle" font-weight="normal" fill="#222" >90</text>
<text x="536.2" y="398.7" font-size="14.5" text-anchor="middle" font-weight="normal" fill="#222" >180</text>
<text x="375.4" y="413.8" font-size="14" text-anchor="start" font-weight="normal" fill="#222" textLength="95.7" lengthAdjust="spacingAndGlyphs">Divergence (°)</text>
<text x="55" y="29" font-size="16" text-anchor="start" font-weight="bold" fill="#000" >(a)</text>
<text x="330.3" y="29.5" font-size="16" text-anchor="start" font-weight="bold" fill="#000" >(b)</text>
<text x="54.8" y="241.3" font-size="16" text-anchor="start" font-weight="bold" fill="#000" >(c)</text>
<text x="330.5" y="240.5" font-size="16" text-anchor="start" font-weight="bold" fill="#000" >(d)</text>
<text transform="translate(14.2,89.3) rotate(-90)" font-size="14.5" text-anchor="middle" fill="#000" stroke="#000" stroke-width="0.3" textLength="95.6" lengthAdjust="spacingAndGlyphs">dN<tspan font-size="10.5" dy="4">e</tspan><tspan dy="-4">/dE (a.u.)</tspan></text>
<text transform="translate(13.6,297.4) rotate(-90)" font-size="14.5" text-anchor="middle" fill="#000" stroke="#000" stroke-width="0.3" textLength="99.4" lengthAdjust="spacingAndGlyphs">dN<tspan font-size="10.5" dy="4">e+</tspan><tspan dy="-4">/dE (a.u.)</tspan></text>
<text transform="translate(283.4,86.2) rotate(-90)" font-size="14.5" text-anchor="middle" fill="#222" textLength="59.2" lengthAdjust="spacingAndGlyphs">N<tspan font-size="11" dy="6">e</tspan><tspan dy="-6"> (a.u.)</tspan></text>
<text transform="translate(284.3,298.6) rotate(-90)" font-size="14.5" text-anchor="middle" fill="#222" textLength="66.6" lengthAdjust="spacingAndGlyphs">N<tspan font-size="11" dy="6">e+</tspan><tspan dy="-6"> (a.u.)</tspan></text>
<path d="M171,238.1H192.8" stroke="#0a0a0a" stroke-width="1.3"/>
<text x="195" y="243.8" font-size="14.5" text-anchor="start" font-weight="bold" fill="#000" textLength="27.6" lengthAdjust="spacingAndGlyphs">12T</text>
<text x="222.6" y="246.7" font-size="8.5" text-anchor="start" font-weight="bold" fill="#000" >0</text>
<path d="M171,257.1H192.8" stroke="#c81e1e" stroke-width="1.3"/>
<text x="195" y="262.8" font-size="14.5" text-anchor="start" font-weight="bold" fill="#000" textLength="27.6" lengthAdjust="spacingAndGlyphs">20T</text>
<text x="222.6" y="265.7" font-size="8.5" text-anchor="start" font-weight="bold" fill="#000" >0</text>
<path d="M171,275.8H192.8" stroke="#1e14f5" stroke-width="1.3"/>
<text x="195" y="281.5" font-size="14.5" text-anchor="start" font-weight="bold" fill="#000" textLength="27.6" lengthAdjust="spacingAndGlyphs">28T</text>
<text x="222.6" y="284.4" font-size="8.5" text-anchor="start" font-weight="bold" fill="#000" >0</text>
</g></svg>
</body></html>
